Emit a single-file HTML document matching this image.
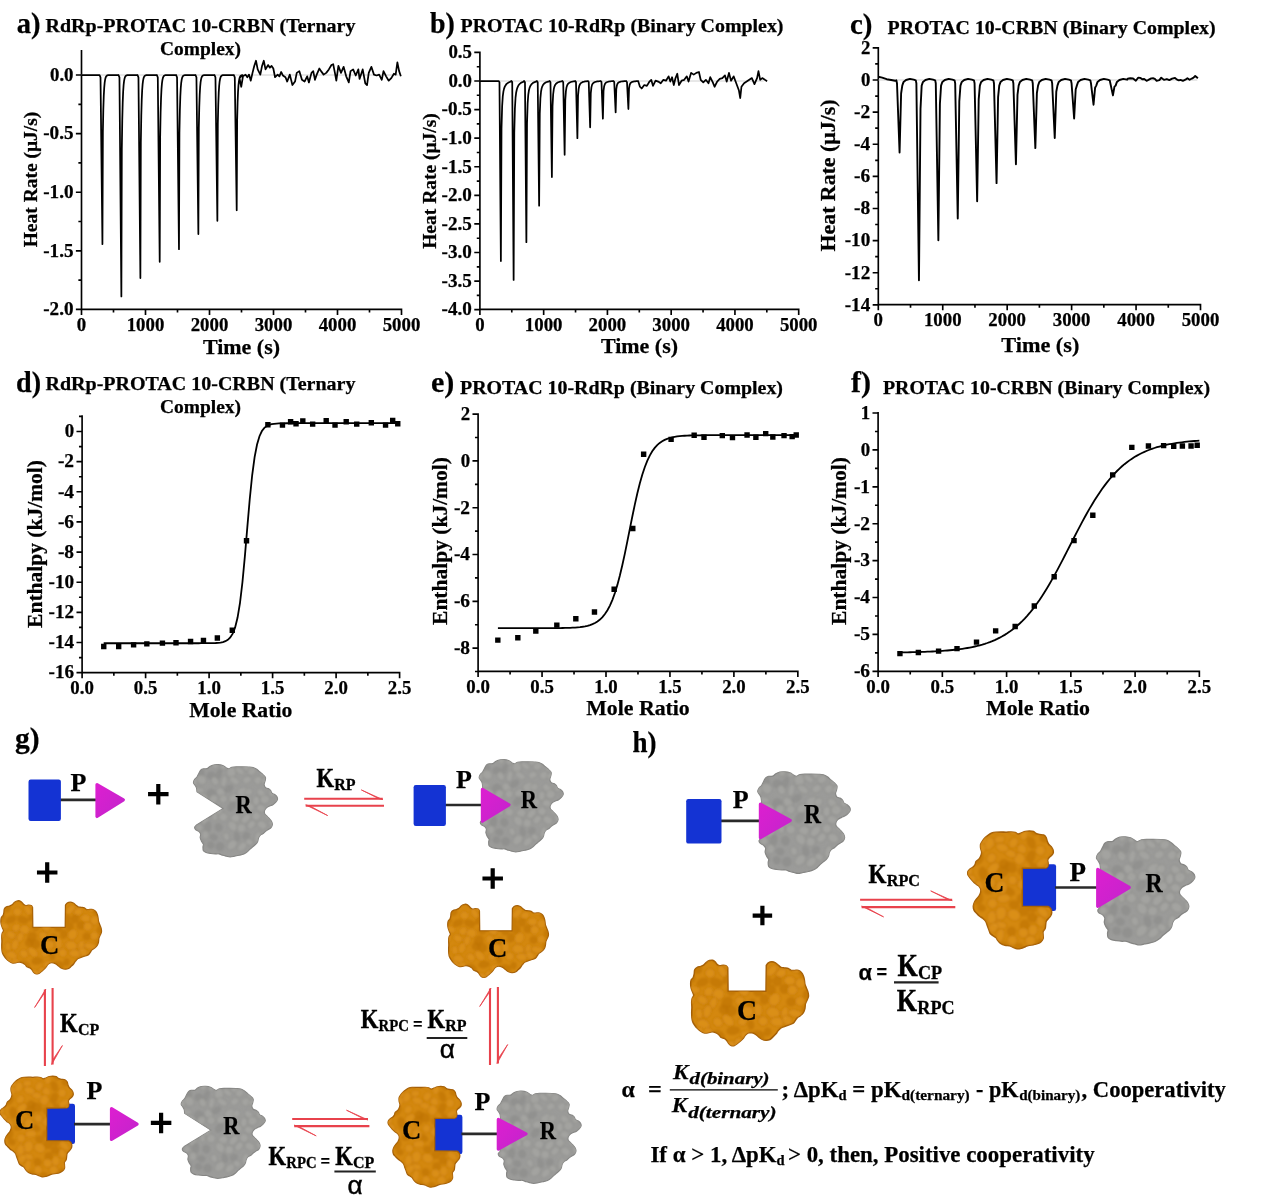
<!DOCTYPE html>
<html lang="en"><head><meta charset="utf-8"><title>ITC cooperativity figure</title>
<style>html,body{margin:0;padding:0;background:#fff}svg{display:block;filter:blur(0.5px)}text{font-family:"Liberation Serif","Times New Roman",serif;font-weight:bold;fill:#000;stroke:#000;stroke-width:0.25px}.s{font-family:"Liberation Sans",Arial,sans-serif}.n{font-weight:normal}.i{font-style:italic}.m{text-anchor:middle}.e{text-anchor:end}.k{stroke:#000;stroke-width:0.45px}.k2{stroke:#000;stroke-width:0.3px}</style>
</head><body>
<svg width="1268" height="1196" viewBox="0 0 1268 1196">
<rect width="1268" height="1196" fill="#fff"/>
<defs>
<path id="gp" d="M3.46 27.7C3.38 27.09 3.31 25.09 3 24.02C2.69 22.95 2.13 22.18 1.62 21.26C1.11 20.34 0.04 19.5 -0.04 18.5C-0.11 17.5 0.58 16.2 1.16 15.28C1.74 14.36 2.77 13.98 3.46 12.98C4.15 11.98 4.69 10.45 5.3 9.3C5.91 8.15 6.37 6.85 7.14 6.08C7.91 5.31 8.83 4.96 9.9 4.7C10.97 4.44 12.51 4.9 13.58 4.52C14.65 4.13 15.27 3.01 16.34 2.4C17.41 1.79 18.64 1.14 20.02 0.84C21.4 0.53 23.09 0.45 24.62 0.56C26.15 0.67 27.84 0.94 29.22 1.48C30.6 2.02 31.9 3.24 32.9 3.78C33.89 4.32 34.28 4.81 35.2 4.7C36.12 4.59 37.11 3.47 38.42 3.14C39.72 2.8 41.33 2.75 43.02 2.68C44.7 2.6 46.54 2.64 48.54 2.68C50.53 2.71 53.14 2.75 54.98 2.86C56.82 2.97 58.2 2.94 59.58 3.32C60.96 3.7 62.11 4.39 63.26 5.16C64.41 5.93 65.4 7 66.48 7.92C67.55 8.84 68.78 9.76 69.7 10.68C70.62 11.6 71.69 12.37 72 13.44C72.3 14.51 71.77 15.97 71.54 17.12C71.31 18.27 70.54 19.27 70.62 20.34C70.69 21.41 71.31 22.87 72 23.56C72.69 24.25 73.91 24.02 74.76 24.48C75.6 24.94 76.44 25.55 77.06 26.32C77.67 27.09 77.75 28.39 78.44 29.08C79.13 29.77 80.35 29.85 81.2 30.46C82.04 31.07 83.04 31.92 83.5 32.76C83.96 33.6 84.19 34.6 83.96 35.52C83.73 36.44 82.88 37.43 82.12 38.28C81.35 39.12 80.35 39.96 79.36 40.58C78.36 41.19 77.21 41.42 76.14 41.96C75.06 42.49 73.76 43.03 72.92 43.8C72.07 44.56 71.38 45.64 71.08 46.56C70.77 47.48 70.77 48.47 71.08 49.32C71.38 50.16 72.15 50.77 72.92 51.62C73.68 52.46 74.83 53.46 75.68 54.38C76.52 55.3 77.44 56.14 77.98 57.14C78.51 58.13 78.97 59.28 78.9 60.36C78.82 61.43 78.21 62.73 77.52 63.58C76.83 64.42 75.68 64.8 74.76 65.42C73.84 66.03 72.84 66.57 72 67.26C71.15 67.95 70.54 68.94 69.7 69.56C68.85 70.17 67.7 70.25 66.94 70.94C66.17 71.63 65.56 72.62 65.1 73.7C64.64 74.77 64.64 76.3 64.18 77.38C63.72 78.45 63.1 79.29 62.34 80.14C61.57 80.98 60.5 81.67 59.58 82.44C58.66 83.2 57.74 83.89 56.82 84.74C55.9 85.58 55.13 86.65 54.06 87.5C52.98 88.34 51.76 89.18 50.38 89.8C49 90.41 47.31 90.79 45.78 91.18C44.24 91.56 42.71 91.82 41.18 92.1C39.64 92.37 37.96 92.83 36.58 92.83C35.2 92.83 34.12 92.37 32.9 92.1C31.67 91.82 30.45 91.56 29.22 91.18C27.99 90.79 26.77 90.03 25.54 89.8C24.31 89.57 23.24 89.87 21.86 89.8C20.48 89.72 18.79 89.57 17.26 89.34C15.73 89.11 13.89 88.88 12.66 88.42C11.43 87.96 10.44 87.5 9.9 86.58C9.36 85.66 9.44 83.97 9.44 82.9C9.44 81.82 10.13 81.06 9.9 80.14C9.67 79.22 8.6 78.45 8.06 77.38C7.52 76.3 6.83 74.92 6.68 73.7C6.53 72.47 7.37 71.09 7.14 70.02C6.91 68.94 6.14 68.02 5.3 67.26C4.46 66.49 2.77 66.11 2.08 65.42C1.39 64.73 1.01 63.88 1.16 63.12C1.31 62.35 2.69 61.2 3 60.82L29.68 44.44Z"/>
<path id="gq" d="M3.46 27.7C3.38 27.09 3.31 25.09 3 24.02C2.69 22.95 2.13 22.18 1.62 21.26C1.11 20.34 0.04 19.5 -0.04 18.5C-0.11 17.5 0.58 16.2 1.16 15.28C1.74 14.36 2.77 13.98 3.46 12.98C4.15 11.98 4.69 10.45 5.3 9.3C5.91 8.15 6.37 6.85 7.14 6.08C7.91 5.31 8.83 4.96 9.9 4.7C10.97 4.44 12.51 4.9 13.58 4.52C14.65 4.13 15.27 3.01 16.34 2.4C17.41 1.79 18.64 1.14 20.02 0.84C21.4 0.53 23.09 0.45 24.62 0.56C26.15 0.67 27.84 0.94 29.22 1.48C30.6 2.02 31.9 3.24 32.9 3.78C33.89 4.32 34.28 4.81 35.2 4.7C36.12 4.59 37.11 3.47 38.42 3.14C39.72 2.8 41.33 2.75 43.02 2.68C44.7 2.6 46.54 2.64 48.54 2.68C50.53 2.71 53.14 2.75 54.98 2.86C56.82 2.97 58.2 2.94 59.58 3.32C60.96 3.7 62.11 4.39 63.26 5.16C64.41 5.93 65.4 7 66.48 7.92C67.55 8.84 68.78 9.76 69.7 10.68C70.62 11.6 71.69 12.37 72 13.44C72.3 14.51 71.77 15.97 71.54 17.12C71.31 18.27 70.54 19.27 70.62 20.34C70.69 21.41 71.31 22.87 72 23.56C72.69 24.25 73.91 24.02 74.76 24.48C75.6 24.94 76.44 25.55 77.06 26.32C77.67 27.09 77.75 28.39 78.44 29.08C79.13 29.77 80.35 29.85 81.2 30.46C82.04 31.07 83.04 31.92 83.5 32.76C83.96 33.6 84.19 34.6 83.96 35.52C83.73 36.44 82.88 37.43 82.12 38.28C81.35 39.12 80.35 39.96 79.36 40.58C78.36 41.19 77.21 41.42 76.14 41.96C75.06 42.49 73.76 43.03 72.92 43.8C72.07 44.56 71.38 45.64 71.08 46.56C70.77 47.48 70.77 48.47 71.08 49.32C71.38 50.16 72.15 50.77 72.92 51.62C73.68 52.46 74.83 53.46 75.68 54.38C76.52 55.3 77.44 56.14 77.98 57.14C78.51 58.13 78.97 59.28 78.9 60.36C78.82 61.43 78.21 62.73 77.52 63.58C76.83 64.42 75.68 64.8 74.76 65.42C73.84 66.03 72.84 66.57 72 67.26C71.15 67.95 70.54 68.94 69.7 69.56C68.85 70.17 67.7 70.25 66.94 70.94C66.17 71.63 65.56 72.62 65.1 73.7C64.64 74.77 64.64 76.3 64.18 77.38C63.72 78.45 63.1 79.29 62.34 80.14C61.57 80.98 60.5 81.67 59.58 82.44C58.66 83.2 57.74 83.89 56.82 84.74C55.9 85.58 55.13 86.65 54.06 87.5C52.98 88.34 51.76 89.18 50.38 89.8C49 90.41 47.31 90.79 45.78 91.18C44.24 91.56 42.71 91.82 41.18 92.1C39.64 92.37 37.96 92.83 36.58 92.83C35.2 92.83 34.12 92.37 32.9 92.1C31.67 91.82 30.45 91.56 29.22 91.18C27.99 90.79 26.77 90.03 25.54 89.8C24.31 89.57 23.24 89.87 21.86 89.8C20.48 89.72 18.79 89.57 17.26 89.34C15.73 89.11 13.89 88.88 12.66 88.42C11.43 87.96 10.44 87.5 9.9 86.58C9.36 85.66 9.44 83.97 9.44 82.9C9.44 81.82 10.13 81.06 9.9 80.14C9.67 79.22 8.6 78.45 8.06 77.38C7.52 76.3 6.83 74.92 6.68 73.7C6.53 72.47 7.37 71.09 7.14 70.02C6.91 68.94 6.14 68.02 5.3 67.26C4.46 66.49 2.77 66.11 2.08 65.42C1.39 64.73 1.01 63.88 1.16 63.12C1.31 62.35 2.69 61.2 3 60.82Z"/>
<path id="op" d="M64.8 4.48C65.09 4.12 65.74 2.82 66.53 2.31C67.33 1.81 68.56 1.45 69.57 1.45C70.58 1.45 71.67 1.81 72.61 2.31C73.55 2.82 74.41 3.83 75.21 4.48C76 5.13 76.51 5.86 77.38 6.22C78.25 6.58 79.4 6.51 80.41 6.65C81.43 6.8 82.51 6.72 83.45 7.08C84.39 7.45 85.11 8.53 86.05 8.82C86.99 9.11 88.08 8.82 89.09 8.82C90.1 8.82 91.19 8.53 92.13 8.82C93.07 9.11 94.01 9.76 94.73 10.55C95.45 11.35 96.03 12.51 96.46 13.59C96.9 14.68 97.11 15.9 97.33 17.06C97.55 18.22 97.48 19.37 97.76 20.53C98.05 21.69 98.63 22.84 99.07 24C99.5 25.16 100.08 26.31 100.37 27.47C100.66 28.63 100.95 29.78 100.8 30.94C100.66 32.1 99.93 33.33 99.5 34.41C99.07 35.5 98.49 36.29 98.2 37.45C97.91 38.6 98.05 40.12 97.76 41.35C97.48 42.58 97.11 43.81 96.46 44.82C95.81 45.83 94.73 46.7 93.86 47.42C92.99 48.15 91.98 48.44 91.26 49.16C90.54 49.88 90.1 50.97 89.52 51.76C88.94 52.56 88.66 53.35 87.79 53.93C86.92 54.51 85.47 54.8 84.32 55.23C83.16 55.67 82 56.1 80.85 56.53C79.69 56.97 78.39 57.18 77.38 57.83C76.37 58.49 75.5 59.57 74.77 60.44C74.05 61.3 73.76 62.17 73.04 63.04C72.32 63.91 71.3 64.85 70.44 65.64C69.57 66.44 68.85 67.35 67.83 67.81C66.82 68.27 65.52 68.49 64.36 68.42C63.21 68.35 61.91 67.84 60.89 67.38C59.88 66.91 59.16 66.29 58.29 65.64C57.42 64.99 56.63 64.05 55.69 63.47C54.75 62.9 53.67 62.39 52.65 62.17C51.64 61.96 50.56 61.88 49.62 62.17C48.68 62.46 47.74 63.18 47.01 63.91C46.29 64.63 46 65.64 45.28 66.51C44.56 67.38 43.54 68.32 42.68 69.11C41.81 69.91 40.94 70.63 40.07 71.28C39.21 71.93 38.34 72.73 37.47 73.02C36.6 73.31 35.66 73.31 34.87 73.02C34.07 72.73 33.35 72 32.7 71.28C32.05 70.56 31.62 69.4 30.96 68.68C30.31 67.96 29.59 67.38 28.8 66.94C28 66.51 26.92 66.58 26.19 66.08C25.47 65.57 25.18 64.56 24.46 63.91C23.74 63.26 22.87 62.61 21.86 62.17C20.84 61.74 19.54 61.3 18.39 61.3C17.23 61.3 16.07 62.03 14.92 62.17C13.76 62.32 12.53 62.46 11.45 62.17C10.36 61.88 9.35 61.09 8.41 60.44C7.47 59.79 6.6 59.06 5.81 58.27C5.01 57.47 4.29 56.61 3.64 55.67C2.99 54.73 2.31 53.71 1.9 52.63C1.5 51.55 1.35 50.46 1.21 49.16C1.06 47.86 1.04 46.27 1.04 44.82C1.04 43.38 1.21 41.93 1.21 40.48C1.21 39.04 0.99 37.45 1.04 36.15C1.08 34.85 1.18 33.69 1.47 32.68C1.76 31.66 2.7 30.94 2.77 30.07C2.84 29.21 2.26 28.48 1.9 27.47C1.54 26.46 0.89 25.16 0.6 24C0.31 22.84 0.17 21.69 0.17 20.53C0.17 19.37 0.24 18 0.6 17.06C0.96 16.12 1.9 15.76 2.34 14.89C2.77 14.02 2.99 12.94 3.2 11.86C3.42 10.77 3.2 9.33 3.64 8.39C4.07 7.45 4.94 6.72 5.81 6.22C6.67 5.71 7.9 5.71 8.84 5.35C9.78 4.99 10.65 4.63 11.45 4.05C12.24 3.47 12.82 2.49 13.61 1.88C14.41 1.27 15.35 0.69 16.22 0.4C17.08 0.12 18.02 -0.03 18.82 0.14C19.61 0.32 20.34 0.87 20.99 1.45C21.64 2.02 22.07 3.04 22.72 3.61C23.37 4.19 24.02 4.77 24.89 4.92C25.76 5.06 26.99 4.48 27.93 4.48C28.87 4.48 29.88 4.55 30.53 4.92C31.18 5.28 31.62 6.36 31.83 6.65L32.09 26.6L64.54 26.6Z"/>
<clipPath id="gc"><use href="#gq"/></clipPath>
<clipPath id="oc"><use href="#op"/></clipPath>
<filter id="bl" x="-10%" y="-10%" width="120%" height="120%"><feGaussianBlur stdDeviation="0.9"/></filter>
<g id="GT" clip-path="url(#gc)"><g filter="url(#bl)"><ellipse cx="-1.31" cy="0.22" rx="4.69" ry="4.09" fill="#8b8b89" fill-opacity="0.6" transform="rotate(112.63 -1.31 0.22)"/><ellipse cx="8.07" cy="1.69" rx="4.42" ry="3.42" fill="#a5a5a2" fill-opacity="0.75" stroke="#8b8b89" stroke-opacity="0.55" stroke-width="1.1" transform="rotate(179.22 8.07 1.69)"/><ellipse cx="22.68" cy="-0.12" rx="5.33" ry="3.27" fill="#a5a5a2" fill-opacity="0.75" stroke="#8b8b89" stroke-opacity="0.55" stroke-width="1.1" transform="rotate(114.27 22.68 -0.12)"/><ellipse cx="31.62" cy="1.21" rx="5.41" ry="3.12" fill="#a5a5a2" fill-opacity="0.75" stroke="#8b8b89" stroke-opacity="0.55" stroke-width="1.1" transform="rotate(136.48 31.62 1.21)"/><ellipse cx="41.01" cy="-2.34" rx="5.88" ry="3.85" fill="#a5a5a2" fill-opacity="0.75" stroke="#8b8b89" stroke-opacity="0.55" stroke-width="1.1" transform="rotate(129.39 41.01 -2.34)"/><ellipse cx="53.57" cy="2.11" rx="4.75" ry="4.44" fill="#a5a5a2" fill-opacity="0.75" stroke="#8b8b89" stroke-opacity="0.55" stroke-width="1.1" transform="rotate(80.03 53.57 2.11)"/><ellipse cx="64.89" cy="-2.01" rx="4.13" ry="3.39" fill="#a5a5a2" fill-opacity="0.75" stroke="#8b8b89" stroke-opacity="0.55" stroke-width="1.1" transform="rotate(173.79 64.89 -2.01)"/><ellipse cx="74.13" cy="-0.99" rx="5.02" ry="3.69" fill="#a5a5a2" fill-opacity="0.75" stroke="#8b8b89" stroke-opacity="0.55" stroke-width="1.1" transform="rotate(63.16 74.13 -0.99)"/><ellipse cx="84.42" cy="2.02" rx="5.44" ry="4.67" fill="#a5a5a2" fill-opacity="0.75" stroke="#8b8b89" stroke-opacity="0.55" stroke-width="1.1" transform="rotate(154.15 84.42 2.02)"/><ellipse cx="95.36" cy="-1.68" rx="5.87" ry="4.74" fill="#a5a5a2" fill-opacity="0.75" stroke="#8b8b89" stroke-opacity="0.55" stroke-width="1.1" transform="rotate(162.85 95.36 -1.68)"/><ellipse cx="6.32" cy="7.48" rx="5.8" ry="4.03" fill="#8b8b89" fill-opacity="0.6" transform="rotate(51.29 6.32 7.48)"/><ellipse cx="17.52" cy="11.37" rx="4.01" ry="4.44" fill="#8b8b89" fill-opacity="0.6" transform="rotate(73.88 17.52 11.37)"/><ellipse cx="25.22" cy="10.27" rx="5.89" ry="3.08" fill="#8b8b89" fill-opacity="0.6" transform="rotate(110.62 25.22 10.27)"/><ellipse cx="37.84" cy="8.08" rx="5.91" ry="4.77" fill="#a5a5a2" fill-opacity="0.75" stroke="#8b8b89" stroke-opacity="0.55" stroke-width="1.1" transform="rotate(90.98 37.84 8.08)"/><ellipse cx="46.3" cy="6.81" rx="5.24" ry="3.06" fill="#a5a5a2" fill-opacity="0.75" stroke="#8b8b89" stroke-opacity="0.55" stroke-width="1.1" transform="rotate(35.53 46.3 6.81)"/><ellipse cx="58.3" cy="7.21" rx="3.9" ry="4.56" fill="#a5a5a2" fill-opacity="0.75" stroke="#8b8b89" stroke-opacity="0.55" stroke-width="1.1" transform="rotate(56.49 58.3 7.21)"/><ellipse cx="70.23" cy="8.31" rx="4.9" ry="3.94" fill="#a5a5a2" fill-opacity="0.75" stroke="#8b8b89" stroke-opacity="0.55" stroke-width="1.1" transform="rotate(115.9 70.23 8.31)"/><ellipse cx="79.05" cy="9.53" rx="6.06" ry="3.91" fill="#a5a5a2" fill-opacity="0.75" stroke="#8b8b89" stroke-opacity="0.55" stroke-width="1.1" transform="rotate(77.61 79.05 9.53)"/><ellipse cx="87.94" cy="7.93" rx="6.15" ry="3.94" fill="#8b8b89" fill-opacity="0.6" transform="rotate(98.72 87.94 7.93)"/><ellipse cx="99.33" cy="9.32" rx="3.85" ry="4.11" fill="#8b8b89" fill-opacity="0.6" transform="rotate(113.79 99.33 9.32)"/><ellipse cx="0.64" cy="17.68" rx="5.43" ry="3.63" fill="#a5a5a2" fill-opacity="0.75" stroke="#8b8b89" stroke-opacity="0.55" stroke-width="1.1" transform="rotate(127.25 0.64 17.68)"/><ellipse cx="8.11" cy="15.65" rx="5.42" ry="4.73" fill="#a5a5a2" fill-opacity="0.75" stroke="#8b8b89" stroke-opacity="0.55" stroke-width="1.1" transform="rotate(45.2 8.11 15.65)"/><ellipse cx="21.46" cy="16.95" rx="4.67" ry="3.56" fill="#a5a5a2" fill-opacity="0.75" stroke="#8b8b89" stroke-opacity="0.55" stroke-width="1.1" transform="rotate(66.45 21.46 16.95)"/><ellipse cx="30.5" cy="17.24" rx="5.65" ry="3.05" fill="#a5a5a2" fill-opacity="0.75" stroke="#8b8b89" stroke-opacity="0.55" stroke-width="1.1" transform="rotate(102.47 30.5 17.24)"/><ellipse cx="41.05" cy="16.46" rx="5.73" ry="3.43" fill="#a5a5a2" fill-opacity="0.75" stroke="#8b8b89" stroke-opacity="0.55" stroke-width="1.1" transform="rotate(33.73 41.05 16.46)"/><ellipse cx="53.49" cy="15.86" rx="4.57" ry="3.6" fill="#a5a5a2" fill-opacity="0.75" stroke="#8b8b89" stroke-opacity="0.55" stroke-width="1.1" transform="rotate(150.04 53.49 15.86)"/><ellipse cx="64.78" cy="16.2" rx="4.61" ry="4.17" fill="#a5a5a2" fill-opacity="0.75" stroke="#8b8b89" stroke-opacity="0.55" stroke-width="1.1" transform="rotate(159.28 64.78 16.2)"/><ellipse cx="72.13" cy="15.95" rx="5.07" ry="3.34" fill="#a5a5a2" fill-opacity="0.75" stroke="#8b8b89" stroke-opacity="0.55" stroke-width="1.1" transform="rotate(145.22 72.13 15.95)"/><ellipse cx="82.42" cy="16.74" rx="5.74" ry="4.16" fill="#a5a5a2" fill-opacity="0.75" stroke="#8b8b89" stroke-opacity="0.55" stroke-width="1.1" transform="rotate(145.13 82.42 16.74)"/><ellipse cx="92.65" cy="16.81" rx="5.71" ry="3.49" fill="#a5a5a2" fill-opacity="0.75" stroke="#8b8b89" stroke-opacity="0.55" stroke-width="1.1" transform="rotate(62.34 92.65 16.81)"/><ellipse cx="4.85" cy="26.32" rx="6.01" ry="3.28" fill="#a5a5a2" fill-opacity="0.75" stroke="#8b8b89" stroke-opacity="0.55" stroke-width="1.1" transform="rotate(0.84 4.85 26.32)"/><ellipse cx="17.65" cy="29.21" rx="4.84" ry="4.71" fill="#8b8b89" fill-opacity="0.6" transform="rotate(166.93 17.65 29.21)"/><ellipse cx="27.48" cy="28.46" rx="5.39" ry="3.93" fill="#a5a5a2" fill-opacity="0.75" stroke="#8b8b89" stroke-opacity="0.55" stroke-width="1.1" transform="rotate(52.03 27.48 28.46)"/><ellipse cx="35.39" cy="24.62" rx="5.21" ry="3.52" fill="#8b8b89" fill-opacity="0.6" transform="rotate(145.83 35.39 24.62)"/><ellipse cx="49.27" cy="27.74" rx="6.02" ry="4.61" fill="#a5a5a2" fill-opacity="0.75" stroke="#8b8b89" stroke-opacity="0.55" stroke-width="1.1" transform="rotate(161.94 49.27 27.74)"/><ellipse cx="55.32" cy="28" rx="4.21" ry="3.54" fill="#a5a5a2" fill-opacity="0.75" stroke="#8b8b89" stroke-opacity="0.55" stroke-width="1.1" transform="rotate(119.32 55.32 28)"/><ellipse cx="67.82" cy="28.97" rx="5.27" ry="3.61" fill="#a5a5a2" fill-opacity="0.75" stroke="#8b8b89" stroke-opacity="0.55" stroke-width="1.1" transform="rotate(45.45 67.82 28.97)"/><ellipse cx="78.64" cy="28.19" rx="4.64" ry="3.36" fill="#a5a5a2" fill-opacity="0.75" stroke="#8b8b89" stroke-opacity="0.55" stroke-width="1.1" transform="rotate(96.23 78.64 28.19)"/><ellipse cx="87.61" cy="28.23" rx="6.01" ry="4.45" fill="#8b8b89" fill-opacity="0.6" transform="rotate(148.23 87.61 28.23)"/><ellipse cx="100.39" cy="28.59" rx="3.92" ry="3.49" fill="#a5a5a2" fill-opacity="0.75" stroke="#8b8b89" stroke-opacity="0.55" stroke-width="1.1" transform="rotate(48.35 100.39 28.59)"/><ellipse cx="-0.39" cy="35.56" rx="5.66" ry="3" fill="#8b8b89" fill-opacity="0.6" transform="rotate(9.87 -0.39 35.56)"/><ellipse cx="8.62" cy="33.54" rx="6.14" ry="4.54" fill="#a5a5a2" fill-opacity="0.75" stroke="#8b8b89" stroke-opacity="0.55" stroke-width="1.1" transform="rotate(15.5 8.62 33.54)"/><ellipse cx="20.08" cy="34.77" rx="4.64" ry="4.16" fill="#a5a5a2" fill-opacity="0.75" stroke="#8b8b89" stroke-opacity="0.55" stroke-width="1.1" transform="rotate(105.59 20.08 34.77)"/><ellipse cx="29.96" cy="34.84" rx="4.1" ry="4" fill="#a5a5a2" fill-opacity="0.75" stroke="#8b8b89" stroke-opacity="0.55" stroke-width="1.1" transform="rotate(128.89 29.96 34.84)"/><ellipse cx="39.9" cy="34.09" rx="4.7" ry="4.09" fill="#a5a5a2" fill-opacity="0.75" stroke="#8b8b89" stroke-opacity="0.55" stroke-width="1.1" transform="rotate(140.87 39.9 34.09)"/><ellipse cx="54.01" cy="36.31" rx="4.84" ry="3.67" fill="#a5a5a2" fill-opacity="0.75" stroke="#8b8b89" stroke-opacity="0.55" stroke-width="1.1" transform="rotate(89.31 54.01 36.31)"/><ellipse cx="62.6" cy="36.67" rx="4.91" ry="3.44" fill="#a5a5a2" fill-opacity="0.75" stroke="#8b8b89" stroke-opacity="0.55" stroke-width="1.1" transform="rotate(96.45 62.6 36.67)"/><ellipse cx="71.36" cy="35.32" rx="4.82" ry="4.58" fill="#a5a5a2" fill-opacity="0.75" stroke="#8b8b89" stroke-opacity="0.55" stroke-width="1.1" transform="rotate(168.57 71.36 35.32)"/><ellipse cx="85.99" cy="37.15" rx="4.43" ry="3.84" fill="#a5a5a2" fill-opacity="0.75" stroke="#8b8b89" stroke-opacity="0.55" stroke-width="1.1" transform="rotate(22.17 85.99 37.15)"/><ellipse cx="95.31" cy="37.64" rx="5.7" ry="4.2" fill="#a5a5a2" fill-opacity="0.75" stroke="#8b8b89" stroke-opacity="0.55" stroke-width="1.1" transform="rotate(132.07 95.31 37.64)"/><ellipse cx="3.27" cy="45.06" rx="3.81" ry="3.26" fill="#8b8b89" fill-opacity="0.6" transform="rotate(139.37 3.27 45.06)"/><ellipse cx="13.71" cy="42.62" rx="5.91" ry="3.32" fill="#a5a5a2" fill-opacity="0.75" stroke="#8b8b89" stroke-opacity="0.55" stroke-width="1.1" transform="rotate(4.23 13.71 42.62)"/><ellipse cx="24.36" cy="46.34" rx="5.42" ry="4.51" fill="#a5a5a2" fill-opacity="0.75" stroke="#8b8b89" stroke-opacity="0.55" stroke-width="1.1" transform="rotate(171.43 24.36 46.34)"/><ellipse cx="38.24" cy="42.31" rx="5.64" ry="3.92" fill="#8b8b89" fill-opacity="0.6" transform="rotate(128.73 38.24 42.31)"/><ellipse cx="48.49" cy="46.8" rx="3.95" ry="3.58" fill="#a5a5a2" fill-opacity="0.75" stroke="#8b8b89" stroke-opacity="0.55" stroke-width="1.1" transform="rotate(101.52 48.49 46.8)"/><ellipse cx="56.46" cy="43.02" rx="4.4" ry="4.11" fill="#a5a5a2" fill-opacity="0.75" stroke="#8b8b89" stroke-opacity="0.55" stroke-width="1.1" transform="rotate(135.64 56.46 43.02)"/><ellipse cx="67.59" cy="44.11" rx="4.64" ry="3.75" fill="#a5a5a2" fill-opacity="0.75" stroke="#8b8b89" stroke-opacity="0.55" stroke-width="1.1" transform="rotate(14.99 67.59 44.11)"/><ellipse cx="81.12" cy="44.19" rx="5.59" ry="3.29" fill="#a5a5a2" fill-opacity="0.75" stroke="#8b8b89" stroke-opacity="0.55" stroke-width="1.1" transform="rotate(124.35 81.12 44.19)"/><ellipse cx="90.12" cy="44.71" rx="4.96" ry="4.16" fill="#8b8b89" fill-opacity="0.6" transform="rotate(161.53 90.12 44.71)"/><ellipse cx="97.73" cy="45.87" rx="6" ry="3.93" fill="#a5a5a2" fill-opacity="0.75" stroke="#8b8b89" stroke-opacity="0.55" stroke-width="1.1" transform="rotate(79.75 97.73 45.87)"/><ellipse cx="-1.57" cy="52.39" rx="4.28" ry="4.05" fill="#8b8b89" fill-opacity="0.6" transform="rotate(56.67 -1.57 52.39)"/><ellipse cx="11.46" cy="55.82" rx="4.51" ry="4.27" fill="#a5a5a2" fill-opacity="0.75" stroke="#8b8b89" stroke-opacity="0.55" stroke-width="1.1" transform="rotate(74.38 11.46 55.82)"/><ellipse cx="21.42" cy="52.39" rx="4.32" ry="3.04" fill="#a5a5a2" fill-opacity="0.75" stroke="#8b8b89" stroke-opacity="0.55" stroke-width="1.1" transform="rotate(86.31 21.42 52.39)"/><ellipse cx="29.86" cy="52.85" rx="4.57" ry="4.39" fill="#a5a5a2" fill-opacity="0.75" stroke="#8b8b89" stroke-opacity="0.55" stroke-width="1.1" transform="rotate(25.85 29.86 52.85)"/><ellipse cx="41.9" cy="54.05" rx="4.92" ry="4.5" fill="#a5a5a2" fill-opacity="0.75" stroke="#8b8b89" stroke-opacity="0.55" stroke-width="1.1" transform="rotate(147.89 41.9 54.05)"/><ellipse cx="52.41" cy="54.65" rx="5.86" ry="3.72" fill="#a5a5a2" fill-opacity="0.75" stroke="#8b8b89" stroke-opacity="0.55" stroke-width="1.1" transform="rotate(132.05 52.41 54.65)"/><ellipse cx="62.84" cy="52.2" rx="4.36" ry="4.29" fill="#a5a5a2" fill-opacity="0.75" stroke="#8b8b89" stroke-opacity="0.55" stroke-width="1.1" transform="rotate(121.56 62.84 52.2)"/><ellipse cx="75.27" cy="52.26" rx="4.26" ry="3.47" fill="#a5a5a2" fill-opacity="0.75" stroke="#8b8b89" stroke-opacity="0.55" stroke-width="1.1" transform="rotate(33.69 75.27 52.26)"/><ellipse cx="85.79" cy="55.55" rx="4.41" ry="4.56" fill="#a5a5a2" fill-opacity="0.75" stroke="#8b8b89" stroke-opacity="0.55" stroke-width="1.1" transform="rotate(56.42 85.79 55.55)"/><ellipse cx="95.64" cy="51.48" rx="4.02" ry="4.5" fill="#a5a5a2" fill-opacity="0.75" stroke="#8b8b89" stroke-opacity="0.55" stroke-width="1.1" transform="rotate(52.52 95.64 51.48)"/><ellipse cx="5.65" cy="63.35" rx="3.82" ry="3.6" fill="#a5a5a2" fill-opacity="0.75" stroke="#8b8b89" stroke-opacity="0.55" stroke-width="1.1" transform="rotate(78.52 5.65 63.35)"/><ellipse cx="14.3" cy="62.9" rx="6.09" ry="3.7" fill="#8b8b89" fill-opacity="0.6" transform="rotate(97.98 14.3 62.9)"/><ellipse cx="25.12" cy="63.3" rx="4.07" ry="4.6" fill="#8b8b89" fill-opacity="0.6" transform="rotate(163.58 25.12 63.3)"/><ellipse cx="38.96" cy="61.85" rx="5.65" ry="4.36" fill="#a5a5a2" fill-opacity="0.75" stroke="#8b8b89" stroke-opacity="0.55" stroke-width="1.1" transform="rotate(53.2 38.96 61.85)"/><ellipse cx="48.02" cy="64.01" rx="4.44" ry="4.36" fill="#a5a5a2" fill-opacity="0.75" stroke="#8b8b89" stroke-opacity="0.55" stroke-width="1.1" transform="rotate(173.04 48.02 64.01)"/><ellipse cx="57.93" cy="60.54" rx="4.99" ry="3.63" fill="#a5a5a2" fill-opacity="0.75" stroke="#8b8b89" stroke-opacity="0.55" stroke-width="1.1" transform="rotate(129.26 57.93 60.54)"/><ellipse cx="68.58" cy="60.88" rx="5.35" ry="4.14" fill="#a5a5a2" fill-opacity="0.75" stroke="#8b8b89" stroke-opacity="0.55" stroke-width="1.1" transform="rotate(32.24 68.58 60.88)"/><ellipse cx="79.53" cy="60.59" rx="6.04" ry="3.25" fill="#a5a5a2" fill-opacity="0.75" stroke="#8b8b89" stroke-opacity="0.55" stroke-width="1.1" transform="rotate(59.68 79.53 60.59)"/><ellipse cx="89.74" cy="62.75" rx="5.35" ry="3.82" fill="#8b8b89" fill-opacity="0.6" transform="rotate(56.24 89.74 62.75)"/><ellipse cx="97.59" cy="63.55" rx="5.61" ry="3.98" fill="#a5a5a2" fill-opacity="0.75" stroke="#8b8b89" stroke-opacity="0.55" stroke-width="1.1" transform="rotate(133.13 97.59 63.55)"/><ellipse cx="-1.17" cy="70.82" rx="5.89" ry="3.08" fill="#8b8b89" fill-opacity="0.6" transform="rotate(90.85 -1.17 70.82)"/><ellipse cx="11.84" cy="70.67" rx="4.6" ry="3.73" fill="#a5a5a2" fill-opacity="0.75" stroke="#8b8b89" stroke-opacity="0.55" stroke-width="1.1" transform="rotate(97.47 11.84 70.67)"/><ellipse cx="20.26" cy="73.13" rx="4.07" ry="3.49" fill="#8b8b89" fill-opacity="0.6" transform="rotate(17.94 20.26 73.13)"/><ellipse cx="32.89" cy="72.54" rx="4.24" ry="3.34" fill="#a5a5a2" fill-opacity="0.75" stroke="#8b8b89" stroke-opacity="0.55" stroke-width="1.1" transform="rotate(75 32.89 72.54)"/><ellipse cx="43.58" cy="72.64" rx="5.22" ry="3.26" fill="#8b8b89" fill-opacity="0.6" transform="rotate(71.72 43.58 72.64)"/><ellipse cx="52.64" cy="71.74" rx="4.28" ry="3.45" fill="#8b8b89" fill-opacity="0.6" transform="rotate(140.7 52.64 71.74)"/><ellipse cx="64.52" cy="73.36" rx="6.08" ry="3.69" fill="#a5a5a2" fill-opacity="0.75" stroke="#8b8b89" stroke-opacity="0.55" stroke-width="1.1" transform="rotate(99.47 64.52 73.36)"/><ellipse cx="74.17" cy="73.78" rx="5.45" ry="3.54" fill="#a5a5a2" fill-opacity="0.75" stroke="#8b8b89" stroke-opacity="0.55" stroke-width="1.1" transform="rotate(154.8 74.17 73.78)"/><ellipse cx="84.51" cy="72.53" rx="3.81" ry="4.39" fill="#a5a5a2" fill-opacity="0.75" stroke="#8b8b89" stroke-opacity="0.55" stroke-width="1.1" transform="rotate(119.15 84.51 72.53)"/><ellipse cx="94.62" cy="71.2" rx="4.26" ry="3.95" fill="#a5a5a2" fill-opacity="0.75" stroke="#8b8b89" stroke-opacity="0.55" stroke-width="1.1" transform="rotate(6.67 94.62 71.2)"/><ellipse cx="5.98" cy="80.05" rx="5.16" ry="4.73" fill="#8b8b89" fill-opacity="0.6" transform="rotate(160.57 5.98 80.05)"/><ellipse cx="17.21" cy="80.94" rx="3.92" ry="3.65" fill="#8b8b89" fill-opacity="0.6" transform="rotate(42.01 17.21 80.94)"/><ellipse cx="26.44" cy="82.47" rx="4.58" ry="4.57" fill="#8b8b89" fill-opacity="0.6" transform="rotate(125.04 26.44 82.47)"/><ellipse cx="38.54" cy="80.83" rx="6.02" ry="4.29" fill="#a5a5a2" fill-opacity="0.75" stroke="#8b8b89" stroke-opacity="0.55" stroke-width="1.1" transform="rotate(133.15 38.54 80.83)"/><ellipse cx="48.78" cy="82.48" rx="5.87" ry="3.79" fill="#a5a5a2" fill-opacity="0.75" stroke="#8b8b89" stroke-opacity="0.55" stroke-width="1.1" transform="rotate(136.23 48.78 82.48)"/><ellipse cx="55.8" cy="78.04" rx="3.99" ry="3.36" fill="#a5a5a2" fill-opacity="0.75" stroke="#8b8b89" stroke-opacity="0.55" stroke-width="1.1" transform="rotate(28.95 55.8 78.04)"/><ellipse cx="69.25" cy="80.51" rx="4.81" ry="4.17" fill="#a5a5a2" fill-opacity="0.75" stroke="#8b8b89" stroke-opacity="0.55" stroke-width="1.1" transform="rotate(54.84 69.25 80.51)"/><ellipse cx="80.04" cy="79.83" rx="4.23" ry="4.62" fill="#a5a5a2" fill-opacity="0.75" stroke="#8b8b89" stroke-opacity="0.55" stroke-width="1.1" transform="rotate(129.54 80.04 79.83)"/><ellipse cx="88.6" cy="80.47" rx="5.23" ry="3.4" fill="#8b8b89" fill-opacity="0.6" transform="rotate(0.49 88.6 80.47)"/><ellipse cx="101.17" cy="78.54" rx="4.9" ry="3.35" fill="#8b8b89" fill-opacity="0.6" transform="rotate(37.67 101.17 78.54)"/></g></g>
<g id="G"><use href="#gp" fill="#9b9b99" stroke="#858583" stroke-width="1.1" stroke-linejoin="round"/><use href="#GT" clip-path="url(#gm)"/></g>
<clipPath id="gm"><use href="#gp"/></clipPath>
<g id="GC"><use href="#gq" fill="#9b9b99" stroke="#858583" stroke-width="1.1" stroke-linejoin="round"/><use href="#GT"/></g>
<g id="O"><use href="#op" fill="#d4880f" stroke="#a35e08" stroke-width="1.3" stroke-linejoin="round"/><g clip-path="url(#oc)"><g filter="url(#bl)"><ellipse cx="-0.18" cy="-0.63" rx="4.13" ry="4.56" fill="#dc921c" fill-opacity="0.75" stroke="#bd7206" stroke-opacity="0.55" stroke-width="1.1" transform="rotate(1.16 -0.18 -0.63)"/><ellipse cx="12.49" cy="-2.1" rx="5.13" ry="4.11" fill="#dc921c" fill-opacity="0.75" stroke="#bd7206" stroke-opacity="0.55" stroke-width="1.1" transform="rotate(7.36 12.49 -2.1)"/><ellipse cx="22.02" cy="-0.24" rx="5.54" ry="3.28" fill="#bd7206" fill-opacity="0.6" transform="rotate(42.84 22.02 -0.24)"/><ellipse cx="31.53" cy="2.12" rx="5.22" ry="4.39" fill="#dc921c" fill-opacity="0.75" stroke="#bd7206" stroke-opacity="0.55" stroke-width="1.1" transform="rotate(69.06 31.53 2.12)"/><ellipse cx="40.01" cy="-1.04" rx="5.42" ry="4.31" fill="#bd7206" fill-opacity="0.6" transform="rotate(75.92 40.01 -1.04)"/><ellipse cx="51.33" cy="-1.45" rx="4.47" ry="4.46" fill="#dc921c" fill-opacity="0.75" stroke="#bd7206" stroke-opacity="0.55" stroke-width="1.1" transform="rotate(35.91 51.33 -1.45)"/><ellipse cx="64.9" cy="-2.23" rx="4.71" ry="3.89" fill="#dc921c" fill-opacity="0.75" stroke="#bd7206" stroke-opacity="0.55" stroke-width="1.1" transform="rotate(4.23 64.9 -2.23)"/><ellipse cx="75.53" cy="-1.94" rx="5.23" ry="3.22" fill="#dc921c" fill-opacity="0.75" stroke="#bd7206" stroke-opacity="0.55" stroke-width="1.1" transform="rotate(104.17 75.53 -1.94)"/><ellipse cx="82.52" cy="-2.46" rx="4" ry="3.97" fill="#bd7206" fill-opacity="0.6" transform="rotate(3.14 82.52 -2.46)"/><ellipse cx="94.48" cy="2.1" rx="4.81" ry="3.72" fill="#bd7206" fill-opacity="0.6" transform="rotate(114.97 94.48 2.1)"/><ellipse cx="105.4" cy="-1.64" rx="5.26" ry="4.72" fill="#dc921c" fill-opacity="0.75" stroke="#bd7206" stroke-opacity="0.55" stroke-width="1.1" transform="rotate(9.75 105.4 -1.64)"/><ellipse cx="5.78" cy="7.17" rx="4.44" ry="4.79" fill="#bd7206" fill-opacity="0.6" transform="rotate(179.63 5.78 7.17)"/><ellipse cx="16.78" cy="11.18" rx="4.37" ry="4.1" fill="#dc921c" fill-opacity="0.75" stroke="#bd7206" stroke-opacity="0.55" stroke-width="1.1" transform="rotate(7.75 16.78 11.18)"/><ellipse cx="27.12" cy="9.38" rx="5.66" ry="3.16" fill="#dc921c" fill-opacity="0.75" stroke="#bd7206" stroke-opacity="0.55" stroke-width="1.1" transform="rotate(62.5 27.12 9.38)"/><ellipse cx="37.17" cy="8.68" rx="4.77" ry="4.77" fill="#bd7206" fill-opacity="0.6" transform="rotate(103.4 37.17 8.68)"/><ellipse cx="48.75" cy="8.07" rx="4.84" ry="3.38" fill="#dc921c" fill-opacity="0.75" stroke="#bd7206" stroke-opacity="0.55" stroke-width="1.1" transform="rotate(79.92 48.75 8.07)"/><ellipse cx="55.69" cy="9.57" rx="4.05" ry="4.41" fill="#dc921c" fill-opacity="0.75" stroke="#bd7206" stroke-opacity="0.55" stroke-width="1.1" transform="rotate(4.57 55.69 9.57)"/><ellipse cx="69.79" cy="8.91" rx="5.5" ry="3.45" fill="#dc921c" fill-opacity="0.75" stroke="#bd7206" stroke-opacity="0.55" stroke-width="1.1" transform="rotate(132.77 69.79 8.91)"/><ellipse cx="77.4" cy="11.25" rx="4.76" ry="3.67" fill="#dc921c" fill-opacity="0.75" stroke="#bd7206" stroke-opacity="0.55" stroke-width="1.1" transform="rotate(154.78 77.4 11.25)"/><ellipse cx="90.09" cy="7.28" rx="5.82" ry="3.47" fill="#dc921c" fill-opacity="0.75" stroke="#bd7206" stroke-opacity="0.55" stroke-width="1.1" transform="rotate(9.09 90.09 7.28)"/><ellipse cx="98.11" cy="11.16" rx="6.17" ry="4.09" fill="#bd7206" fill-opacity="0.6" transform="rotate(2.14 98.11 11.16)"/><ellipse cx="108.79" cy="8.37" rx="5.27" ry="4.74" fill="#bd7206" fill-opacity="0.6" transform="rotate(63.82 108.79 8.37)"/><ellipse cx="0.31" cy="16.04" rx="4.01" ry="4" fill="#bd7206" fill-opacity="0.6" transform="rotate(125.28 0.31 16.04)"/><ellipse cx="10.26" cy="18.87" rx="5.63" ry="3.69" fill="#bd7206" fill-opacity="0.6" transform="rotate(159.69 10.26 18.87)"/><ellipse cx="22.08" cy="19.21" rx="5.91" ry="3.89" fill="#bd7206" fill-opacity="0.6" transform="rotate(17.86 22.08 19.21)"/><ellipse cx="31.64" cy="16.22" rx="5.31" ry="3.15" fill="#bd7206" fill-opacity="0.6" transform="rotate(140.43 31.64 16.22)"/><ellipse cx="39.57" cy="16.23" rx="4.9" ry="4.01" fill="#bd7206" fill-opacity="0.6" transform="rotate(69.89 39.57 16.23)"/><ellipse cx="52.41" cy="20.08" rx="5.09" ry="4.69" fill="#dc921c" fill-opacity="0.75" stroke="#bd7206" stroke-opacity="0.55" stroke-width="1.1" transform="rotate(5.18 52.41 20.08)"/><ellipse cx="64.94" cy="18.07" rx="5.06" ry="3.97" fill="#bd7206" fill-opacity="0.6" transform="rotate(163.72 64.94 18.07)"/><ellipse cx="74.21" cy="18.06" rx="4.52" ry="4.3" fill="#bd7206" fill-opacity="0.6" transform="rotate(129.72 74.21 18.06)"/><ellipse cx="85" cy="17.62" rx="4.98" ry="4.15" fill="#dc921c" fill-opacity="0.75" stroke="#bd7206" stroke-opacity="0.55" stroke-width="1.1" transform="rotate(9.53 85 17.62)"/><ellipse cx="93.87" cy="19.74" rx="4.35" ry="4.48" fill="#dc921c" fill-opacity="0.75" stroke="#bd7206" stroke-opacity="0.55" stroke-width="1.1" transform="rotate(131.33 93.87 19.74)"/><ellipse cx="106.88" cy="15.53" rx="5.23" ry="4.1" fill="#dc921c" fill-opacity="0.75" stroke="#bd7206" stroke-opacity="0.55" stroke-width="1.1" transform="rotate(122.05 106.88 15.53)"/><ellipse cx="3.09" cy="25.22" rx="5.26" ry="3.33" fill="#dc921c" fill-opacity="0.75" stroke="#bd7206" stroke-opacity="0.55" stroke-width="1.1" transform="rotate(11.68 3.09 25.22)"/><ellipse cx="15.6" cy="26.95" rx="3.86" ry="4.4" fill="#dc921c" fill-opacity="0.75" stroke="#bd7206" stroke-opacity="0.55" stroke-width="1.1" transform="rotate(60.09 15.6 26.95)"/><ellipse cx="23.79" cy="29.05" rx="5.22" ry="4.76" fill="#dc921c" fill-opacity="0.75" stroke="#bd7206" stroke-opacity="0.55" stroke-width="1.1" transform="rotate(177.54 23.79 29.05)"/><ellipse cx="34.78" cy="26.02" rx="4.36" ry="4.4" fill="#bd7206" fill-opacity="0.6" transform="rotate(34.59 34.78 26.02)"/><ellipse cx="45.3" cy="24.88" rx="6.05" ry="4.76" fill="#dc921c" fill-opacity="0.75" stroke="#bd7206" stroke-opacity="0.55" stroke-width="1.1" transform="rotate(67.04 45.3 24.88)"/><ellipse cx="57.59" cy="26.89" rx="4.69" ry="4.14" fill="#bd7206" fill-opacity="0.6" transform="rotate(42.51 57.59 26.89)"/><ellipse cx="68.34" cy="25.26" rx="4.85" ry="4.7" fill="#bd7206" fill-opacity="0.6" transform="rotate(4 68.34 25.26)"/><ellipse cx="80.25" cy="24.56" rx="4.4" ry="4.53" fill="#bd7206" fill-opacity="0.6" transform="rotate(108.95 80.25 24.56)"/><ellipse cx="87.04" cy="25.65" rx="4.52" ry="4.44" fill="#dc921c" fill-opacity="0.75" stroke="#bd7206" stroke-opacity="0.55" stroke-width="1.1" transform="rotate(175.6 87.04 25.65)"/><ellipse cx="101.76" cy="28.93" rx="5.9" ry="4.66" fill="#bd7206" fill-opacity="0.6" transform="rotate(174.16 101.76 28.93)"/><ellipse cx="109.34" cy="25.51" rx="5.25" ry="3.89" fill="#dc921c" fill-opacity="0.75" stroke="#bd7206" stroke-opacity="0.55" stroke-width="1.1" transform="rotate(62.45 109.34 25.51)"/><ellipse cx="-0.5" cy="34.24" rx="4.46" ry="3.83" fill="#dc921c" fill-opacity="0.75" stroke="#bd7206" stroke-opacity="0.55" stroke-width="1.1" transform="rotate(109.88 -0.5 34.24)"/><ellipse cx="10.2" cy="34.13" rx="4.77" ry="3.59" fill="#dc921c" fill-opacity="0.75" stroke="#bd7206" stroke-opacity="0.55" stroke-width="1.1" transform="rotate(30.7 10.2 34.13)"/><ellipse cx="19.44" cy="36.76" rx="5.38" ry="3.25" fill="#dc921c" fill-opacity="0.75" stroke="#bd7206" stroke-opacity="0.55" stroke-width="1.1" transform="rotate(112.57 19.44 36.76)"/><ellipse cx="31.24" cy="36.23" rx="5.63" ry="4.59" fill="#bd7206" fill-opacity="0.6" transform="rotate(132.04 31.24 36.23)"/><ellipse cx="42.21" cy="34.88" rx="3.85" ry="3.99" fill="#dc921c" fill-opacity="0.75" stroke="#bd7206" stroke-opacity="0.55" stroke-width="1.1" transform="rotate(84.71 42.21 34.88)"/><ellipse cx="51.62" cy="37.37" rx="5.03" ry="3.18" fill="#bd7206" fill-opacity="0.6" transform="rotate(129.05 51.62 37.37)"/><ellipse cx="63.17" cy="33.56" rx="3.83" ry="4.66" fill="#bd7206" fill-opacity="0.6" transform="rotate(7.56 63.17 33.56)"/><ellipse cx="71.82" cy="33.68" rx="5.78" ry="4.79" fill="#dc921c" fill-opacity="0.75" stroke="#bd7206" stroke-opacity="0.55" stroke-width="1.1" transform="rotate(116.85 71.82 33.68)"/><ellipse cx="85.94" cy="35.73" rx="4.12" ry="4.24" fill="#bd7206" fill-opacity="0.6" transform="rotate(64.62 85.94 35.73)"/><ellipse cx="93.6" cy="35.13" rx="4.24" ry="4.1" fill="#dc921c" fill-opacity="0.75" stroke="#bd7206" stroke-opacity="0.55" stroke-width="1.1" transform="rotate(156.31 93.6 35.13)"/><ellipse cx="102.55" cy="36.62" rx="3.85" ry="3.86" fill="#dc921c" fill-opacity="0.75" stroke="#bd7206" stroke-opacity="0.55" stroke-width="1.1" transform="rotate(155.83 102.55 36.62)"/><ellipse cx="7.29" cy="45.9" rx="4.45" ry="3.26" fill="#dc921c" fill-opacity="0.75" stroke="#bd7206" stroke-opacity="0.55" stroke-width="1.1" transform="rotate(81.27 7.29 45.9)"/><ellipse cx="14.41" cy="43.78" rx="5.6" ry="3.63" fill="#dc921c" fill-opacity="0.75" stroke="#bd7206" stroke-opacity="0.55" stroke-width="1.1" transform="rotate(108.16 14.41 43.78)"/><ellipse cx="28.39" cy="42.26" rx="4.25" ry="4.4" fill="#bd7206" fill-opacity="0.6" transform="rotate(120.44 28.39 42.26)"/><ellipse cx="34.92" cy="43.18" rx="5.1" ry="4.62" fill="#bd7206" fill-opacity="0.6" transform="rotate(38.98 34.92 43.18)"/><ellipse cx="48.18" cy="44.24" rx="5.83" ry="4.8" fill="#dc921c" fill-opacity="0.75" stroke="#bd7206" stroke-opacity="0.55" stroke-width="1.1" transform="rotate(168.51 48.18 44.24)"/><ellipse cx="57.73" cy="42.43" rx="5.74" ry="3.72" fill="#dc921c" fill-opacity="0.75" stroke="#bd7206" stroke-opacity="0.55" stroke-width="1.1" transform="rotate(83.45 57.73 42.43)"/><ellipse cx="70.57" cy="44.9" rx="6" ry="4.74" fill="#dc921c" fill-opacity="0.75" stroke="#bd7206" stroke-opacity="0.55" stroke-width="1.1" transform="rotate(15.28 70.57 44.9)"/><ellipse cx="80.69" cy="45.96" rx="6.13" ry="3.34" fill="#dc921c" fill-opacity="0.75" stroke="#bd7206" stroke-opacity="0.55" stroke-width="1.1" transform="rotate(95.61 80.69 45.96)"/><ellipse cx="89.45" cy="45.48" rx="6.14" ry="3.31" fill="#dc921c" fill-opacity="0.75" stroke="#bd7206" stroke-opacity="0.55" stroke-width="1.1" transform="rotate(10.17 89.45 45.48)"/><ellipse cx="100.16" cy="43.13" rx="5.8" ry="3.51" fill="#bd7206" fill-opacity="0.6" transform="rotate(23.36 100.16 43.13)"/><ellipse cx="107.93" cy="44.15" rx="5.67" ry="3.82" fill="#bd7206" fill-opacity="0.6" transform="rotate(173.63 107.93 44.15)"/><ellipse cx="-1.63" cy="51.77" rx="5.18" ry="3.36" fill="#dc921c" fill-opacity="0.75" stroke="#bd7206" stroke-opacity="0.55" stroke-width="1.1" transform="rotate(120.1 -1.63 51.77)"/><ellipse cx="10.9" cy="55.27" rx="5.7" ry="4.66" fill="#dc921c" fill-opacity="0.75" stroke="#bd7206" stroke-opacity="0.55" stroke-width="1.1" transform="rotate(27.38 10.9 55.27)"/><ellipse cx="23.3" cy="53.03" rx="4.49" ry="3.87" fill="#dc921c" fill-opacity="0.75" stroke="#bd7206" stroke-opacity="0.55" stroke-width="1.1" transform="rotate(32.56 23.3 53.03)"/><ellipse cx="32.18" cy="51.52" rx="6.11" ry="3.94" fill="#dc921c" fill-opacity="0.75" stroke="#bd7206" stroke-opacity="0.55" stroke-width="1.1" transform="rotate(45.67 32.18 51.52)"/><ellipse cx="44.25" cy="52.78" rx="3.83" ry="3.36" fill="#dc921c" fill-opacity="0.75" stroke="#bd7206" stroke-opacity="0.55" stroke-width="1.1" transform="rotate(10.56 44.25 52.78)"/><ellipse cx="51.56" cy="55.31" rx="4.29" ry="3.03" fill="#bd7206" fill-opacity="0.6" transform="rotate(83.64 51.56 55.31)"/><ellipse cx="62.05" cy="52.18" rx="4.23" ry="4.15" fill="#dc921c" fill-opacity="0.75" stroke="#bd7206" stroke-opacity="0.55" stroke-width="1.1" transform="rotate(168.52 62.05 52.18)"/><ellipse cx="74.19" cy="52.67" rx="6" ry="4" fill="#dc921c" fill-opacity="0.75" stroke="#bd7206" stroke-opacity="0.55" stroke-width="1.1" transform="rotate(5.27 74.19 52.67)"/><ellipse cx="82.55" cy="51.28" rx="3.85" ry="4.51" fill="#dc921c" fill-opacity="0.75" stroke="#bd7206" stroke-opacity="0.55" stroke-width="1.1" transform="rotate(127.77 82.55 51.28)"/><ellipse cx="94.79" cy="54.58" rx="3.98" ry="4.27" fill="#dc921c" fill-opacity="0.75" stroke="#bd7206" stroke-opacity="0.55" stroke-width="1.1" transform="rotate(127.58 94.79 54.58)"/><ellipse cx="102.8" cy="53.91" rx="5.02" ry="4.52" fill="#dc921c" fill-opacity="0.75" stroke="#bd7206" stroke-opacity="0.55" stroke-width="1.1" transform="rotate(65.54 102.8 53.91)"/><ellipse cx="7.24" cy="61.72" rx="5.04" ry="4.61" fill="#dc921c" fill-opacity="0.75" stroke="#bd7206" stroke-opacity="0.55" stroke-width="1.1" transform="rotate(6.14 7.24 61.72)"/><ellipse cx="14.81" cy="62.26" rx="4.49" ry="4.44" fill="#dc921c" fill-opacity="0.75" stroke="#bd7206" stroke-opacity="0.55" stroke-width="1.1" transform="rotate(95.88 14.81 62.26)"/><ellipse cx="24.27" cy="64.38" rx="5.77" ry="4.22" fill="#bd7206" fill-opacity="0.6" transform="rotate(40.1 24.27 64.38)"/><ellipse cx="36.51" cy="60.3" rx="6.09" ry="3.73" fill="#bd7206" fill-opacity="0.6" transform="rotate(171.61 36.51 60.3)"/><ellipse cx="47.99" cy="63.97" rx="5.35" ry="3.76" fill="#dc921c" fill-opacity="0.75" stroke="#bd7206" stroke-opacity="0.55" stroke-width="1.1" transform="rotate(3.44 47.99 63.97)"/><ellipse cx="57.2" cy="64.7" rx="6.14" ry="4.72" fill="#bd7206" fill-opacity="0.6" transform="rotate(176.43 57.2 64.7)"/><ellipse cx="65.9" cy="61.44" rx="3.82" ry="3.21" fill="#bd7206" fill-opacity="0.6" transform="rotate(103.89 65.9 61.44)"/><ellipse cx="79.3" cy="61.88" rx="4.46" ry="4.74" fill="#dc921c" fill-opacity="0.75" stroke="#bd7206" stroke-opacity="0.55" stroke-width="1.1" transform="rotate(33.53 79.3 61.88)"/><ellipse cx="89.38" cy="63.29" rx="4.15" ry="4.34" fill="#bd7206" fill-opacity="0.6" transform="rotate(160.12 89.38 63.29)"/><ellipse cx="99.61" cy="63.24" rx="4.94" ry="4.35" fill="#dc921c" fill-opacity="0.75" stroke="#bd7206" stroke-opacity="0.55" stroke-width="1.1" transform="rotate(115.98 99.61 63.24)"/><ellipse cx="111.16" cy="63.84" rx="4.91" ry="4.06" fill="#dc921c" fill-opacity="0.75" stroke="#bd7206" stroke-opacity="0.55" stroke-width="1.1" transform="rotate(114.23 111.16 63.84)"/><ellipse cx="-2.06" cy="70.94" rx="5.67" ry="4.3" fill="#dc921c" fill-opacity="0.75" stroke="#bd7206" stroke-opacity="0.55" stroke-width="1.1" transform="rotate(13.36 -2.06 70.94)"/><ellipse cx="10.94" cy="71.56" rx="4.16" ry="4.16" fill="#dc921c" fill-opacity="0.75" stroke="#bd7206" stroke-opacity="0.55" stroke-width="1.1" transform="rotate(125.52 10.94 71.56)"/><ellipse cx="23.2" cy="71.79" rx="3.83" ry="3.51" fill="#bd7206" fill-opacity="0.6" transform="rotate(126.37 23.2 71.79)"/><ellipse cx="33.83" cy="72.4" rx="5.64" ry="3.31" fill="#dc921c" fill-opacity="0.75" stroke="#bd7206" stroke-opacity="0.55" stroke-width="1.1" transform="rotate(1.22 33.83 72.4)"/><ellipse cx="42.05" cy="71.11" rx="5.04" ry="4.38" fill="#dc921c" fill-opacity="0.75" stroke="#bd7206" stroke-opacity="0.55" stroke-width="1.1" transform="rotate(67.05 42.05 71.11)"/><ellipse cx="50.81" cy="73.8" rx="5.47" ry="3.57" fill="#dc921c" fill-opacity="0.75" stroke="#bd7206" stroke-opacity="0.55" stroke-width="1.1" transform="rotate(85.88 50.81 73.8)"/><ellipse cx="62.13" cy="72.4" rx="5.98" ry="4.73" fill="#dc921c" fill-opacity="0.75" stroke="#bd7206" stroke-opacity="0.55" stroke-width="1.1" transform="rotate(46.03 62.13 72.4)"/><ellipse cx="74.04" cy="72.94" rx="3.97" ry="3.74" fill="#dc921c" fill-opacity="0.75" stroke="#bd7206" stroke-opacity="0.55" stroke-width="1.1" transform="rotate(81.28 74.04 72.94)"/><ellipse cx="83.76" cy="69.11" rx="4.3" ry="4.5" fill="#dc921c" fill-opacity="0.75" stroke="#bd7206" stroke-opacity="0.55" stroke-width="1.1" transform="rotate(158.92 83.76 69.11)"/><ellipse cx="92.4" cy="72.77" rx="5.88" ry="3.52" fill="#bd7206" fill-opacity="0.6" transform="rotate(86.73 92.4 72.77)"/><ellipse cx="102.77" cy="72.57" rx="4.18" ry="3.16" fill="#bd7206" fill-opacity="0.6" transform="rotate(163.69 102.77 72.57)"/></g></g></g>
<linearGradient id="mg" gradientUnits="objectBoundingBox" x1="0" y1="0" x2="1" y2="1"><stop offset="0" stop-color="#dc1fd0"/><stop offset="1" stop-color="#c324cc"/></linearGradient>
</defs>
<path d="M81.5 50.8V309.3H401.5M81.5 309.3v4.8M145.5 309.3v4.8M209.5 309.3v4.8M273.5 309.3v4.8M337.5 309.3v4.8M401.5 309.3v4.8M113.5 309.3v2.3M177.5 309.3v2.3M241.5 309.3v2.3M305.5 309.3v2.3M369.5 309.3v2.3M81.5 75h-4.8M81.5 133.6h-4.8M81.5 192.2h-4.8M81.5 250.8h-4.8M81.5 309.4h-4.8M81.5 104.3h-2.3M81.5 162.9h-2.3M81.5 221.5h-2.3M81.5 280.1h-2.3" fill="none" stroke="#000" stroke-width="1.65" stroke-linecap="square"/>
<text x="81.50" y="330.80" font-size="19.2" class="m" textLength="9.41" lengthAdjust="spacingAndGlyphs">0</text>
<text x="145.50" y="330.80" font-size="19.2" class="m" textLength="37.63" lengthAdjust="spacingAndGlyphs">1000</text>
<text x="209.50" y="330.80" font-size="19.2" class="m" textLength="37.63" lengthAdjust="spacingAndGlyphs">2000</text>
<text x="273.50" y="330.80" font-size="19.2" class="m" textLength="37.63" lengthAdjust="spacingAndGlyphs">3000</text>
<text x="337.50" y="330.80" font-size="19.2" class="m" textLength="37.63" lengthAdjust="spacingAndGlyphs">4000</text>
<text x="401.50" y="330.80" font-size="19.2" class="m" textLength="37.63" lengthAdjust="spacingAndGlyphs">5000</text>
<text x="73.50" y="80.80" font-size="19.2" class="e" textLength="23.52" lengthAdjust="spacingAndGlyphs">0.0</text>
<text x="73.50" y="139.40" font-size="19.2" class="e" textLength="30.29" lengthAdjust="spacingAndGlyphs">-0.5</text>
<text x="73.50" y="198.00" font-size="19.2" class="e" textLength="30.29" lengthAdjust="spacingAndGlyphs">-1.0</text>
<text x="73.50" y="256.60" font-size="19.2" class="e" textLength="30.29" lengthAdjust="spacingAndGlyphs">-1.5</text>
<text x="73.50" y="315.20" font-size="19.2" class="e" textLength="30.29" lengthAdjust="spacingAndGlyphs">-2.0</text>
<path d="M81.5 75H398.3" stroke="#c4c4c4" stroke-width="0.8" fill="none"/>
<path d="M81.5 75 L99.55 75 L100.51 77.34 L102.43 244.12 L102.88 131.42 L103.32 109.22 L103.77 95.75 L104.22 87.59 L104.67 82.64 L105.12 79.63 L105.56 77.81 L106.01 76.7 L106.46 76.03 L106.91 75.63 L107.36 75.38 L107.8 75.23 L108.25 75.14 L118.49 75 L119.45 77.34 L121.37 296.39 L121.82 148.85 L122.27 119.79 L122.72 102.17 L123.16 91.48 L123.61 85 L124.06 81.06 L124.51 78.68 L124.96 77.23 L125.4 76.35 L125.85 75.82 L126.3 75.5 L126.75 75.3 L127.2 75.18 L137.5 75 L138.46 77.34 L140.38 278.11 L140.83 142.76 L141.28 116.1 L141.72 99.93 L142.17 90.12 L142.62 84.17 L143.07 80.56 L143.52 78.37 L143.96 77.05 L144.41 76.24 L144.86 75.75 L145.31 75.46 L145.76 75.28 L146.2 75.17 L156.83 75 L157.79 77.34 L159.71 261.82 L160.16 137.32 L160.6 112.8 L161.05 97.93 L161.5 88.91 L161.95 83.43 L162.4 80.12 L162.84 78.1 L163.29 76.88 L163.74 76.14 L164.19 75.69 L164.64 75.42 L165.08 75.25 L165.53 75.15 L176.09 75 L177.05 77.34 L178.97 249.16 L179.42 133.1 L179.87 110.24 L180.32 96.37 L180.76 87.96 L181.21 82.86 L181.66 79.77 L182.11 77.89 L182.56 76.75 L183 76.06 L183.45 75.65 L183.9 75.39 L184.35 75.24 L184.8 75.14 L195.48 75 L196.44 77.34 L198.36 234.04 L198.81 128.05 L199.26 107.18 L199.71 94.52 L200.16 86.84 L200.6 82.18 L201.05 79.35 L201.5 77.64 L201.95 76.6 L202.4 75.97 L202.84 75.59 L203.29 75.36 L203.74 75.22 L204.19 75.13 L214.49 75 L215.45 77.34 L217.37 220.8 L217.82 123.64 L218.27 104.5 L218.72 92.89 L219.16 85.85 L219.61 81.58 L220.06 78.99 L220.51 77.42 L220.96 76.47 L221.4 75.89 L221.85 75.54 L222.3 75.33 L222.75 75.2 L223.2 75.12 L233.82 75 L234.78 77.34 L236.7 210.25 L237.15 120.12 L237.6 102.37 L238.04 91.6 L238.49 85.07 L238.94 81.11 L239.39 78.7 L239.84 77.25 L240.28 76.36 L240.73 75.83 L241.18 75.5 L241.63 75.3 L242.08 75.18 L242.52 75.11 L239.5 78.08 L241.23 86.75 L242.97 76.34 L245.57 74.61 L247.3 77.21 L249.04 74.61 L250.77 80.68 L252.51 72.87 L254.24 65.93 L255.98 60.73 L257.71 69.4 L260.32 74.61 L262.05 65.93 L263.79 60.73 L265.52 69.4 L268.12 65.06 L269.86 67.67 L271.59 65.93 L273.33 68.53 L275.06 77.21 L277.67 74.61 L279.4 76.34 L281.14 72 L282.87 75.47 L285.47 77.21 L287.21 81.55 L289.81 74.61 L292.41 85.02 L295.02 81.55 L296.75 72.87 L299.35 71.14 L301.96 79.81 L304.56 81.55 L307.16 76.34 L308.9 82.41 L311.5 72.87 L313.23 71.14 L314.97 79.81 L316.7 74.61 L319.31 68.53 L321.04 71.14 L323.64 74.61 L326.25 72.87 L328.85 69.4 L331.45 65.06 L333.19 64.2 L334.92 72.87 L336.31 80.68 L338.39 65.93 L340.99 72.87 L343.6 66.8 L346.2 76.34 L348.8 82.41 L350.54 71.14 L353.14 69.4 L355.74 75.47 L358.34 69.4 L359.56 78.94 L362.68 69.4 L365.28 83.28 L367.02 85.02 L368.75 72.87 L371.36 66.8 L373.96 74.61 L376.56 75.47 L379.17 74.61 L381.77 79.81 L383.5 71.14 L386.11 76.34 L388.71 80.68 L391.31 78.08 L393.91 73.74 L395.65 74.61 L397.38 62.46 L399.12 71.14 L400.85 76.34" fill="none" stroke="#000" stroke-width="1.75" stroke-linejoin="round"/>
<text x="241.50" y="354.00" font-size="21.5" class="m" textLength="77.00" lengthAdjust="spacingAndGlyphs">Time (s)</text>
<text x="37.00" y="179.50" font-size="19.5" class="m" transform="rotate(-90 37.00 179.50)">Heat Rate (μJ/s)</text>
<text x="16.80" y="32.60" font-size="30" textLength="23.80" lengthAdjust="spacingAndGlyphs">a)</text>
<text x="45.50" y="32.20" font-size="18.7" textLength="310.00" lengthAdjust="spacingAndGlyphs">RdRp-PROTAC 10-CRBN (Ternary</text>
<text x="160.00" y="55.40" font-size="18.7" textLength="81.00" lengthAdjust="spacingAndGlyphs">Complex)</text>
<path d="M479.9 52.2V309.3H798.7M479.9 309.3v4.8M543.66 309.3v4.8M607.42 309.3v4.8M671.18 309.3v4.8M734.94 309.3v4.8M798.7 309.3v4.8M511.78 309.3v2.3M575.54 309.3v2.3M639.3 309.3v2.3M703.06 309.3v2.3M766.82 309.3v2.3M479.9 52.41h-4.8M479.9 81h-4.8M479.9 109.59h-4.8M479.9 138.17h-4.8M479.9 166.75h-4.8M479.9 195.34h-4.8M479.9 223.93h-4.8M479.9 252.51h-4.8M479.9 281.1h-4.8M479.9 309.68h-4.8M479.9 66.71h-2.3M479.9 95.29h-2.3M479.9 123.88h-2.3M479.9 152.46h-2.3M479.9 181.05h-2.3M479.9 209.63h-2.3M479.9 238.22h-2.3M479.9 266.8h-2.3M479.9 295.39h-2.3" fill="none" stroke="#000" stroke-width="1.65" stroke-linecap="square"/>
<text x="479.90" y="330.80" font-size="19.2" class="m" textLength="9.41" lengthAdjust="spacingAndGlyphs">0</text>
<text x="543.66" y="330.80" font-size="19.2" class="m" textLength="37.63" lengthAdjust="spacingAndGlyphs">1000</text>
<text x="607.42" y="330.80" font-size="19.2" class="m" textLength="37.63" lengthAdjust="spacingAndGlyphs">2000</text>
<text x="671.18" y="330.80" font-size="19.2" class="m" textLength="37.63" lengthAdjust="spacingAndGlyphs">3000</text>
<text x="734.94" y="330.80" font-size="19.2" class="m" textLength="37.63" lengthAdjust="spacingAndGlyphs">4000</text>
<text x="798.70" y="330.80" font-size="19.2" class="m" textLength="37.63" lengthAdjust="spacingAndGlyphs">5000</text>
<text x="471.90" y="58.21" font-size="19.2" class="e" textLength="23.52" lengthAdjust="spacingAndGlyphs">0.5</text>
<text x="471.90" y="86.80" font-size="19.2" class="e" textLength="23.52" lengthAdjust="spacingAndGlyphs">0.0</text>
<text x="471.90" y="115.39" font-size="19.2" class="e" textLength="30.29" lengthAdjust="spacingAndGlyphs">-0.5</text>
<text x="471.90" y="143.97" font-size="19.2" class="e" textLength="30.29" lengthAdjust="spacingAndGlyphs">-1.0</text>
<text x="471.90" y="172.56" font-size="19.2" class="e" textLength="30.29" lengthAdjust="spacingAndGlyphs">-1.5</text>
<text x="471.90" y="201.14" font-size="19.2" class="e" textLength="30.29" lengthAdjust="spacingAndGlyphs">-2.0</text>
<text x="471.90" y="229.73" font-size="19.2" class="e" textLength="30.29" lengthAdjust="spacingAndGlyphs">-2.5</text>
<text x="471.90" y="258.31" font-size="19.2" class="e" textLength="30.29" lengthAdjust="spacingAndGlyphs">-3.0</text>
<text x="471.90" y="286.90" font-size="19.2" class="e" textLength="30.29" lengthAdjust="spacingAndGlyphs">-3.5</text>
<text x="471.90" y="315.48" font-size="19.2" class="e" textLength="30.29" lengthAdjust="spacingAndGlyphs">-4.0</text>
<path d="M479.9 81H763.63" stroke="#c4c4c4" stroke-width="0.8" fill="none"/>
<path d="M479.9 81 L498.65 81 L499.47 82.14 L500.88 261.09 L501.51 128.12 L502.15 105.82 L502.79 96.13 L503.43 91.37 L504.07 88.66 L504.7 86.9 L505.34 85.64 L505.98 84.68 L506.62 83.93 L507.25 83.35 L507.89 82.88 L508.53 82.5 L509.17 82.2 L509.8 81.96 L510.44 81.77 L511.4 81 L512.23 82.14 L513.63 279.95 L514.27 133.05 L514.9 108.42 L515.54 97.71 L516.18 92.45 L516.82 89.46 L517.45 87.52 L518.09 86.12 L518.73 85.07 L519.37 84.24 L520.01 83.59 L520.64 83.07 L521.28 82.66 L521.92 82.33 L522.56 82.06 L523.19 81.85 L524.15 81 L524.98 82.14 L526.38 242.22 L527.02 123.18 L527.66 103.22 L528.29 94.54 L528.93 90.28 L529.57 87.86 L530.21 86.28 L530.84 85.15 L531.48 84.29 L532.12 83.63 L532.76 83.1 L533.39 82.68 L534.03 82.34 L534.67 82.08 L535.31 81.86 L535.95 81.69 L536.9 81 L537.73 82.14 L539.13 205.63 L539.77 113.61 L540.41 98.18 L541.05 91.47 L541.68 88.18 L542.32 86.3 L542.96 85.08 L543.6 84.21 L544.23 83.55 L544.87 83.03 L545.51 82.62 L546.15 82.3 L546.78 82.04 L547.42 81.83 L548.06 81.67 L548.7 81.53 L549.65 81 L550.48 82.14 L551.89 177.05 L552.52 106.13 L553.16 94.24 L553.8 89.07 L554.44 86.53 L555.07 85.09 L555.71 84.15 L556.35 83.47 L556.99 82.96 L557.62 82.57 L558.26 82.25 L558.9 82 L559.54 81.8 L560.17 81.64 L560.81 81.51 L561.45 81.41 L562.41 81 L563.23 82.14 L564.64 154.75 L565.27 100.3 L565.91 91.17 L566.55 87.2 L567.19 85.25 L567.83 84.14 L568.46 83.42 L569.1 82.9 L569.74 82.51 L570.38 82.2 L571.01 81.96 L571.65 81.77 L572.29 81.62 L572.93 81.49 L573.56 81.39 L574.2 81.32 L575.16 81 L575.99 82.14 L577.39 138.17 L578.03 95.96 L578.66 88.88 L579.3 85.8 L579.94 84.29 L580.58 83.43 L581.21 82.87 L581.85 82.47 L582.49 82.17 L583.13 81.93 L583.77 81.74 L584.4 81.6 L585.04 81.48 L585.68 81.38 L586.32 81.31 L586.95 81.24 L587.91 81 L588.74 82.14 L590.14 127.31 L590.78 93.12 L591.42 87.38 L592.05 84.89 L592.69 83.67 L593.33 82.97 L593.97 82.52 L594.6 82.19 L595.24 81.95 L595.88 81.75 L596.52 81.6 L597.15 81.48 L597.79 81.39 L598.43 81.31 L599.07 81.25 L599.71 81.2 L600.66 81 L601.49 82.14 L602.89 118.73 L603.53 90.87 L604.17 86.2 L604.81 84.17 L605.44 83.17 L606.08 82.6 L606.72 82.24 L607.36 81.97 L607.99 81.77 L608.63 81.61 L609.27 81.49 L609.91 81.39 L610.54 81.31 L611.18 81.25 L611.82 81.2 L612.46 81.16 L613.41 81 L614.24 82.14 L615.65 112.44 L616.28 89.23 L616.92 85.33 L617.56 83.64 L618.2 82.81 L618.83 82.34 L619.47 82.03 L620.11 81.81 L620.75 81.64 L621.38 81.51 L622.02 81.41 L622.66 81.33 L623.3 81.26 L623.93 81.21 L624.57 81.17 L625.21 81.13 L626.17 81 L626.99 82.14 L628.4 109.01 L629.03 88.33 L629.67 84.86 L630.31 83.35 L630.95 82.61 L631.59 82.19 L632.22 81.92 L632.86 81.72 L633.5 81.57 L634.14 81.46 L634.77 81.36 L635.41 81.29 L636.05 81.23 L636.69 81.19 L637.32 81.15 L637.96 81.12 L638.22 81.2 L639.95 86.75 L641.69 88.49 L644.29 85.02 L646.89 85.88 L649.5 81.55 L651.23 79.81 L652.97 85.88 L655.57 80.68 L658.17 81.55 L660.77 83.28 L663.38 79.81 L665.98 80.68 L668.58 76.34 L670.32 81.55 L672.05 77.21 L673.79 85.02 L675.52 78.08 L677.26 73.74 L678.99 85.02 L681.59 80.68 L684.2 79.81 L686.8 76.34 L688.53 81.55 L691.14 72.87 L693.74 74.61 L696.34 72.87 L698.94 72 L700.68 79.81 L703.28 82.41 L705.88 79.81 L708.49 83.28 L710.22 77.21 L712.82 82.41 L714.56 86.75 L717.16 81.55 L719.76 78.94 L722.37 78.08 L724.97 75.47 L726.7 81.55 L728.96 72.87 L731.04 80.68 L733.64 76.34 L736.25 83.28 L738.85 90.22 L740.24 98.03 L741.45 86.75 L744.05 83.28 L746.66 81.55 L749.26 79.81 L751.86 78.08 L754.46 84.15 L757.07 78.08 L758.46 71.14 L760.19 79.81 L762.27 78.08 L764.87 79.81 L767.13 81.2" fill="none" stroke="#000" stroke-width="1.75" stroke-linejoin="round"/>
<text x="639.50" y="352.50" font-size="22" class="m" textLength="77.00" lengthAdjust="spacingAndGlyphs">Time (s)</text>
<text x="436.00" y="181.00" font-size="19.5" class="m" transform="rotate(-90 436.00 181.00)">Heat Rate (μJ/s)</text>
<text x="430.00" y="33.00" font-size="30" textLength="24.80" lengthAdjust="spacingAndGlyphs">b)</text>
<text x="460.50" y="32.40" font-size="18.7" textLength="323.00" lengthAdjust="spacingAndGlyphs">PROTAC 10-RdRp (Binary Complex)</text>
<path d="M878.3 47.7V304.6H1200.5M878.3 304.6v4.8M942.74 304.6v4.8M1007.18 304.6v4.8M1071.62 304.6v4.8M1136.06 304.6v4.8M1200.5 304.6v4.8M910.52 304.6v2.3M974.96 304.6v2.3M1039.4 304.6v2.3M1103.84 304.6v2.3M1168.28 304.6v2.3M878.3 47.88h-4.8M878.3 80h-4.8M878.3 112.12h-4.8M878.3 144.24h-4.8M878.3 176.36h-4.8M878.3 208.48h-4.8M878.3 240.6h-4.8M878.3 272.72h-4.8M878.3 304.84h-4.8M878.3 63.94h-2.3M878.3 96.06h-2.3M878.3 128.18h-2.3M878.3 160.3h-2.3M878.3 192.42h-2.3M878.3 224.54h-2.3M878.3 256.66h-2.3M878.3 288.78h-2.3" fill="none" stroke="#000" stroke-width="1.65" stroke-linecap="square"/>
<text x="878.30" y="326.10" font-size="19.2" class="m" textLength="9.41" lengthAdjust="spacingAndGlyphs">0</text>
<text x="942.74" y="326.10" font-size="19.2" class="m" textLength="37.63" lengthAdjust="spacingAndGlyphs">1000</text>
<text x="1007.18" y="326.10" font-size="19.2" class="m" textLength="37.63" lengthAdjust="spacingAndGlyphs">2000</text>
<text x="1071.62" y="326.10" font-size="19.2" class="m" textLength="37.63" lengthAdjust="spacingAndGlyphs">3000</text>
<text x="1136.06" y="326.10" font-size="19.2" class="m" textLength="37.63" lengthAdjust="spacingAndGlyphs">4000</text>
<text x="1200.50" y="326.10" font-size="19.2" class="m" textLength="37.63" lengthAdjust="spacingAndGlyphs">5000</text>
<text x="870.30" y="53.68" font-size="19.2" class="e" textLength="9.41" lengthAdjust="spacingAndGlyphs">2</text>
<text x="870.30" y="85.80" font-size="19.2" class="e" textLength="9.41" lengthAdjust="spacingAndGlyphs">0</text>
<text x="870.30" y="117.92" font-size="19.2" class="e" textLength="16.18" lengthAdjust="spacingAndGlyphs">-2</text>
<text x="870.30" y="150.04" font-size="19.2" class="e" textLength="16.18" lengthAdjust="spacingAndGlyphs">-4</text>
<text x="870.30" y="182.16" font-size="19.2" class="e" textLength="16.18" lengthAdjust="spacingAndGlyphs">-6</text>
<text x="870.30" y="214.28" font-size="19.2" class="e" textLength="16.18" lengthAdjust="spacingAndGlyphs">-8</text>
<text x="870.30" y="246.40" font-size="19.2" class="e" textLength="25.59" lengthAdjust="spacingAndGlyphs">-10</text>
<text x="870.30" y="278.52" font-size="19.2" class="e" textLength="25.59" lengthAdjust="spacingAndGlyphs">-12</text>
<text x="870.30" y="310.64" font-size="19.2" class="e" textLength="25.59" lengthAdjust="spacingAndGlyphs">-14</text>
<path d="M878.3 80H1197.28" stroke="#c4c4c4" stroke-width="0.8" fill="none"/>
<path d="M878.3 76.79 L882.17 77.59 L886.68 79.2 L891.19 80 L895.05 80.8 L896.34 80.32 L896.99 83.21 L899.57 152.43 L901.11 93.51 L902.27 85.62 L903.56 81.93 L906.01 80 L909.88 78.88 L913.74 79.68 L915.74 80.32 L916.38 83.21 L918.96 280.27 L920.51 108.85 L921.67 85.62 L922.96 81.93 L925.41 80 L929.27 78.88 L933.14 79.68 L935.14 80.32 L935.78 83.21 L938.36 240.28 L939.9 104.05 L941.06 85.62 L942.35 81.93 L944.8 80 L948.67 78.88 L952.53 79.68 L954.53 80.32 L955.18 83.21 L957.75 218.44 L959.3 101.43 L960.46 85.62 L961.75 81.93 L964.2 80 L968.06 78.88 L971.93 79.68 L973.93 80.32 L974.57 83.21 L977.15 201.25 L978.7 99.37 L979.86 85.62 L981.15 81.93 L983.59 80 L987.46 78.88 L991.33 79.68 L993.33 80.32 L993.97 83.21 L996.55 183.11 L998.09 97.19 L999.25 85.62 L1000.54 81.93 L1002.99 80 L1006.86 78.88 L1010.72 79.68 L1012.72 80.32 L1013.37 83.21 L1015.94 164.31 L1017.49 94.94 L1018.65 85.62 L1019.94 81.93 L1022.39 80 L1026.25 78.88 L1030.12 79.68 L1032.12 80.32 L1032.76 83.21 L1035.34 148.09 L1036.89 92.99 L1038.05 85.62 L1039.34 81.93 L1041.78 80 L1045.65 78.88 L1049.52 79.68 L1051.51 80.32 L1052.16 83.21 L1054.74 137.98 L1056.28 91.78 L1057.44 85.62 L1058.73 81.93 L1061.18 80 L1065.05 78.88 L1068.91 79.68 L1070.91 80.32 L1071.56 83.21 L1074.13 118.54 L1075.68 89.44 L1076.84 85.62 L1078.13 81.93 L1080.58 80 L1084.44 78.88 L1088.31 79.68 L1090.31 80.32 L1090.95 83.21 L1093.53 104.73 L1095.08 87.79 L1096.24 85.62 L1097.52 81.93 L1099.97 80 L1103.84 78.88 L1107.71 79.68 L1109.7 80.32 L1110.35 83.21 L1112.93 95.42 L1114.47 86.67 L1115.63 85.62 L1116.92 81.93 L1119.37 80 L1123.24 78.88 L1127.1 79.68 L1127.68 78.8 L1130.25 78.25 L1133.08 78.43 L1135.88 80.71 L1138.09 77.77 L1140.53 77.91 L1142.29 79.3 L1144.22 79.06 L1146.57 80.76 L1148.46 79.91 L1151.25 78.34 L1153.07 78.24 L1154.86 78.82 L1156.63 80.8 L1159.37 80.13 L1161.26 77.65 L1163.99 79.87 L1166.84 79.07 L1169.33 80.15 L1172.15 78.58 L1175.01 77.93 L1177 79.64 L1178.83 80.34 L1180.52 79.84 L1182.91 80.79 L1185.4 79.72 L1187.41 78.17 L1189.64 79.79 L1191.87 78.54 L1193.55 77.67 L1195.19 75.99 L1197.89 78.34" fill="none" stroke="#000" stroke-width="1.9" stroke-linejoin="round"/>
<text x="1040.30" y="352.30" font-size="22" class="m" textLength="78.00" lengthAdjust="spacingAndGlyphs">Time (s)</text>
<text x="835.00" y="175.50" font-size="21.5" class="m" textLength="152.00" lengthAdjust="spacingAndGlyphs" transform="rotate(-90 835.00 175.50)">Heat Rate (μJ/s)</text>
<text x="850.00" y="34.00" font-size="30" textLength="22.50" lengthAdjust="spacingAndGlyphs">c)</text>
<text x="887.50" y="34.00" font-size="18.7" textLength="328.00" lengthAdjust="spacingAndGlyphs">PROTAC 10-CRBN (Binary Complex)</text>
<path d="M82.1 416V672.6H399.6M82.1 672.6v4.8M145.6 672.6v4.8M209.1 672.6v4.8M272.6 672.6v4.8M336.1 672.6v4.8M399.6 672.6v4.8M113.85 672.6v2.3M177.35 672.6v2.3M240.85 672.6v2.3M304.35 672.6v2.3M367.85 672.6v2.3M82.1 431.5h-4.8M82.1 461.64h-4.8M82.1 491.78h-4.8M82.1 521.92h-4.8M82.1 552.06h-4.8M82.1 582.2h-4.8M82.1 612.34h-4.8M82.1 642.48h-4.8M82.1 672.62h-4.8M82.1 416.43h-2.3M82.1 446.57h-2.3M82.1 476.71h-2.3M82.1 506.85h-2.3M82.1 536.99h-2.3M82.1 567.13h-2.3M82.1 597.27h-2.3M82.1 627.41h-2.3M82.1 657.55h-2.3" fill="none" stroke="#000" stroke-width="1.65" stroke-linecap="square"/>
<text x="82.10" y="694.10" font-size="19.2" class="m" textLength="23.52" lengthAdjust="spacingAndGlyphs">0.0</text>
<text x="145.60" y="694.10" font-size="19.2" class="m" textLength="23.52" lengthAdjust="spacingAndGlyphs">0.5</text>
<text x="209.10" y="694.10" font-size="19.2" class="m" textLength="23.52" lengthAdjust="spacingAndGlyphs">1.0</text>
<text x="272.60" y="694.10" font-size="19.2" class="m" textLength="23.52" lengthAdjust="spacingAndGlyphs">1.5</text>
<text x="336.10" y="694.10" font-size="19.2" class="m" textLength="23.52" lengthAdjust="spacingAndGlyphs">2.0</text>
<text x="399.60" y="694.10" font-size="19.2" class="m" textLength="23.52" lengthAdjust="spacingAndGlyphs">2.5</text>
<text x="74.10" y="437.30" font-size="19.2" class="e" textLength="9.41" lengthAdjust="spacingAndGlyphs">0</text>
<text x="74.10" y="467.44" font-size="19.2" class="e" textLength="16.18" lengthAdjust="spacingAndGlyphs">-2</text>
<text x="74.10" y="497.58" font-size="19.2" class="e" textLength="16.18" lengthAdjust="spacingAndGlyphs">-4</text>
<text x="74.10" y="527.72" font-size="19.2" class="e" textLength="16.18" lengthAdjust="spacingAndGlyphs">-6</text>
<text x="74.10" y="557.86" font-size="19.2" class="e" textLength="16.18" lengthAdjust="spacingAndGlyphs">-8</text>
<text x="74.10" y="588.00" font-size="19.2" class="e" textLength="25.59" lengthAdjust="spacingAndGlyphs">-10</text>
<text x="74.10" y="618.14" font-size="19.2" class="e" textLength="25.59" lengthAdjust="spacingAndGlyphs">-12</text>
<text x="74.10" y="648.28" font-size="19.2" class="e" textLength="25.59" lengthAdjust="spacingAndGlyphs">-14</text>
<text x="74.10" y="678.42" font-size="19.2" class="e" textLength="25.59" lengthAdjust="spacingAndGlyphs">-16</text>
<path d="M103.69 643.23 L106.12 643.23 L108.56 643.23 L110.99 643.23 L113.43 643.23 L115.86 643.23 L118.3 643.23 L120.73 643.23 L123.16 643.23 L125.6 643.23 L128.03 643.23 L130.47 643.23 L132.9 643.23 L135.33 643.23 L137.77 643.23 L140.2 643.23 L142.64 643.23 L145.07 643.23 L147.5 643.23 L149.94 643.23 L152.37 643.23 L154.81 643.23 L157.24 643.23 L159.68 643.23 L162.11 643.23 L164.54 643.23 L166.98 643.23 L169.41 643.23 L171.85 643.23 L174.28 643.23 L176.72 643.23 L179.15 643.23 L181.58 643.23 L184.02 643.23 L186.45 643.23 L188.89 643.23 L191.32 643.23 L193.75 643.23 L196.19 643.23 L198.62 643.23 L201.06 643.22 L203.49 643.22 L205.93 643.2 L208.36 643.18 L210.79 643.15 L213.23 643.09 L215.66 642.99 L218.1 642.82 L220.53 642.54 L222.96 642.05 L225.4 641.22 L227.83 639.83 L230.27 637.5 L232.7 633.64 L235.13 627.38 L237.57 617.54 L240 602.79 L242.44 582.24 L244.87 556.3 L247.31 527.37 L249.74 499.23 L252.17 475.27 L254.61 457.09 L257.04 444.46 L259.48 436.2 L261.91 431.03 L264.35 427.87 L266.78 425.97 L269.21 424.84 L271.65 424.17 L274.08 423.78 L276.52 423.54 L278.95 423.41 L281.38 423.33 L283.82 423.28 L286.25 423.25 L288.69 423.23 L291.12 423.23 L293.56 423.22 L295.99 423.22 L298.42 423.21 L300.86 423.21 L303.29 423.21 L305.73 423.21 L308.16 423.21 L310.59 423.21 L313.03 423.21 L315.46 423.21 L317.9 423.21 L320.33 423.21 L322.76 423.21 L325.2 423.21 L327.63 423.21 L330.07 423.21 L332.5 423.21 L334.94 423.21 L337.37 423.21 L339.8 423.21 L342.24 423.21 L344.67 423.21 L347.11 423.21 L349.54 423.21 L351.98 423.21 L354.41 423.21 L356.84 423.21 L359.28 423.21 L361.71 423.21 L364.15 423.21 L366.58 423.21 L369.01 423.21 L371.45 423.21 L373.88 423.21 L376.32 423.21 L378.75 423.21 L381.19 423.21 L383.62 423.21 L386.05 423.21 L388.49 423.21 L390.92 423.21 L393.36 423.21 L395.79 423.21" fill="none" stroke="#000" stroke-width="1.8"/>
<path d="M101.06 643.84h5.4v5.4h-5.4zM115.98 643.84h5.4v5.4h-5.4zM130.9 642.14h5.4v5.4h-5.4zM144.13 641.13h5.4v5.4h-5.4zM159.73 640.45h5.4v5.4h-5.4zM173.29 640.11h5.4v5.4h-5.4zM187.87 638.75h5.4v5.4h-5.4zM200.76 637.73h5.4v5.4h-5.4zM214.66 635.36h5.4v5.4h-5.4zM229.58 627.56h5.4v5.4h-5.4zM243.82 538.04h5.4v5.4h-5.4zM265.19 422.07h5.4v5.4h-5.4zM279.77 422.41h5.4v5.4h-5.4zM287.91 419.02h5.4v5.4h-5.4zM293.33 421.05h5.4v5.4h-5.4zM300.11 418.34h5.4v5.4h-5.4zM309.95 421.39h5.4v5.4h-5.4zM323.51 418h5.4v5.4h-5.4zM332.33 422.41h5.4v5.4h-5.4zM343.52 419.02h5.4v5.4h-5.4zM354.03 421.39h5.4v5.4h-5.4zM368.61 420.03h5.4v5.4h-5.4zM382.85 422.41h5.4v5.4h-5.4zM389.98 417.66h5.4v5.4h-5.4zM395.06 421.05h5.4v5.4h-5.4z" fill="#000"/>
<text x="240.80" y="717.00" font-size="22" class="m" textLength="103.00" lengthAdjust="spacingAndGlyphs">Mole Ratio</text>
<text x="42.00" y="544.00" font-size="21.5" class="m" transform="rotate(-90 42.00 544.00)">Enthalpy (kJ/mol)</text>
<text x="16.00" y="392.00" font-size="29.5" textLength="25.00" lengthAdjust="spacingAndGlyphs">d)</text>
<text x="45.50" y="390.20" font-size="18.7" textLength="310.00" lengthAdjust="spacingAndGlyphs">RdRp-PROTAC 10-CRBN (Ternary</text>
<text x="160.00" y="413.20" font-size="18.7" textLength="81.00" lengthAdjust="spacingAndGlyphs">Complex)</text>
<path d="M478.1 414.3V671.4H797.8M478.1 671.4v4.8M542.05 671.4v4.8M606 671.4v4.8M669.95 671.4v4.8M733.9 671.4v4.8M797.85 671.4v4.8M510.08 671.4v2.3M574.03 671.4v2.3M637.98 671.4v2.3M701.93 671.4v2.3M765.88 671.4v2.3M478.1 414.1h-4.8M478.1 460.9h-4.8M478.1 507.7h-4.8M478.1 554.5h-4.8M478.1 601.3h-4.8M478.1 648.1h-4.8M478.1 437.5h-2.3M478.1 484.3h-2.3M478.1 531.1h-2.3M478.1 577.9h-2.3M478.1 624.7h-2.3M478.1 671.5h-2.3" fill="none" stroke="#000" stroke-width="1.65" stroke-linecap="square"/>
<text x="478.10" y="692.90" font-size="19.2" class="m" textLength="23.52" lengthAdjust="spacingAndGlyphs">0.0</text>
<text x="542.05" y="692.90" font-size="19.2" class="m" textLength="23.52" lengthAdjust="spacingAndGlyphs">0.5</text>
<text x="606.00" y="692.90" font-size="19.2" class="m" textLength="23.52" lengthAdjust="spacingAndGlyphs">1.0</text>
<text x="669.95" y="692.90" font-size="19.2" class="m" textLength="23.52" lengthAdjust="spacingAndGlyphs">1.5</text>
<text x="733.90" y="692.90" font-size="19.2" class="m" textLength="23.52" lengthAdjust="spacingAndGlyphs">2.0</text>
<text x="797.85" y="692.90" font-size="19.2" class="m" textLength="23.52" lengthAdjust="spacingAndGlyphs">2.5</text>
<text x="470.10" y="419.90" font-size="19.2" class="e" textLength="9.41" lengthAdjust="spacingAndGlyphs">2</text>
<text x="470.10" y="466.70" font-size="19.2" class="e" textLength="9.41" lengthAdjust="spacingAndGlyphs">0</text>
<text x="470.10" y="513.50" font-size="19.2" class="e" textLength="16.18" lengthAdjust="spacingAndGlyphs">-2</text>
<text x="470.10" y="560.30" font-size="19.2" class="e" textLength="16.18" lengthAdjust="spacingAndGlyphs">-4</text>
<text x="470.10" y="607.10" font-size="19.2" class="e" textLength="16.18" lengthAdjust="spacingAndGlyphs">-6</text>
<text x="470.10" y="653.90" font-size="19.2" class="e" textLength="16.18" lengthAdjust="spacingAndGlyphs">-8</text>
<path d="M497.92 628.21 L500.41 628.21 L502.9 628.21 L505.39 628.21 L507.88 628.21 L510.37 628.21 L512.86 628.21 L515.35 628.21 L517.83 628.21 L520.32 628.21 L522.81 628.21 L525.3 628.21 L527.79 628.21 L530.28 628.2 L532.77 628.2 L535.26 628.2 L537.74 628.2 L540.23 628.19 L542.72 628.19 L545.21 628.18 L547.7 628.17 L550.19 628.16 L552.68 628.14 L555.17 628.12 L557.65 628.1 L560.14 628.07 L562.63 628.02 L565.12 627.97 L567.61 627.9 L570.1 627.81 L572.59 627.69 L575.07 627.53 L577.56 627.33 L580.05 627.08 L582.54 626.74 L585.03 626.31 L587.52 625.76 L590.01 625.04 L592.5 624.13 L594.98 622.95 L597.47 621.45 L599.96 619.53 L602.45 617.11 L604.94 614.06 L607.43 610.26 L609.92 605.57 L612.41 599.85 L614.89 592.98 L617.38 584.88 L619.87 575.55 L622.36 565.05 L624.85 553.58 L627.34 541.41 L629.83 528.92 L632.32 516.53 L634.8 504.62 L637.29 493.55 L639.78 483.55 L642.27 474.76 L644.76 467.22 L647.25 460.87 L649.74 455.61 L652.23 451.33 L654.71 447.88 L657.2 445.12 L659.69 442.94 L662.18 441.22 L664.67 439.87 L667.16 438.81 L669.65 437.99 L672.13 437.35 L674.62 436.85 L677.11 436.47 L679.6 436.17 L682.09 435.94 L684.58 435.76 L687.07 435.63 L689.56 435.52 L692.04 435.44 L694.53 435.37 L697.02 435.33 L699.51 435.29 L702 435.26 L704.49 435.24 L706.98 435.22 L709.47 435.21 L711.95 435.19 L714.44 435.19 L716.93 435.18 L719.42 435.18 L721.91 435.17 L724.4 435.17 L726.89 435.17 L729.38 435.17 L731.86 435.16 L734.35 435.16 L736.84 435.16 L739.33 435.16 L741.82 435.16 L744.31 435.16 L746.8 435.16 L749.29 435.16 L751.77 435.16 L754.26 435.16 L756.75 435.16 L759.24 435.16 L761.73 435.16 L764.22 435.16 L766.71 435.16 L769.2 435.16 L771.68 435.16 L774.17 435.16 L776.66 435.16 L779.15 435.16 L781.64 435.16 L784.13 435.16 L786.62 435.16 L789.1 435.16 L791.59 435.16 L794.08 435.16 L796.57 435.16" fill="none" stroke="#000" stroke-width="1.8"/>
<path d="M495.13 637.39h5.4v5.4h-5.4zM515.13 635.02h5.4v5.4h-5.4zM533.11 628.24h5.4v5.4h-5.4zM554.13 622.47h5.4v5.4h-5.4zM573.12 616.03h5.4v5.4h-5.4zM591.77 609.25h5.4v5.4h-5.4zM611.44 586.53h5.4v5.4h-5.4zM630.09 525.83h5.4v5.4h-5.4zM640.94 451.57h5.4v5.4h-5.4zM668.41 436.65h5.4v5.4h-5.4zM691.46 432.58h5.4v5.4h-5.4zM701.3 434.61h5.4v5.4h-5.4zM719.61 432.92h5.4v5.4h-5.4zM729.78 434.95h5.4v5.4h-5.4zM744.36 432.24h5.4v5.4h-5.4zM753.18 434.61h5.4v5.4h-5.4zM763.01 430.88h5.4v5.4h-5.4zM770.13 434.28h5.4v5.4h-5.4zM781.33 432.92h5.4v5.4h-5.4zM789.46 433.94h5.4v5.4h-5.4zM793.53 432.24h5.4v5.4h-5.4z" fill="#000"/>
<text x="638.00" y="714.50" font-size="22" class="m" textLength="103.50" lengthAdjust="spacingAndGlyphs">Mole Ratio</text>
<text x="447.00" y="541.00" font-size="21.5" class="m" transform="rotate(-90 447.00 541.00)">Enthalpy (kJ/mol)</text>
<text x="431.00" y="392.00" font-size="30">e)</text>
<text x="460.00" y="394.00" font-size="18.7" textLength="323.00" lengthAdjust="spacingAndGlyphs">PROTAC 10-RdRp (Binary Complex)</text>
<path d="M878.1 412.9V671.3H1199.3M878.1 671.3v4.8M942.35 671.3v4.8M1006.6 671.3v4.8M1070.85 671.3v4.8M1135.1 671.3v4.8M1199.35 671.3v4.8M910.23 671.3v2.3M974.48 671.3v2.3M1038.72 671.3v2.3M1102.97 671.3v2.3M1167.22 671.3v2.3M878.1 413h-4.8M878.1 449.9h-4.8M878.1 486.8h-4.8M878.1 523.7h-4.8M878.1 560.6h-4.8M878.1 597.5h-4.8M878.1 634.4h-4.8M878.1 671.3h-4.8M878.1 431.45h-2.3M878.1 468.35h-2.3M878.1 505.25h-2.3M878.1 542.15h-2.3M878.1 579.05h-2.3M878.1 615.95h-2.3M878.1 652.85h-2.3" fill="none" stroke="#000" stroke-width="1.65" stroke-linecap="square"/>
<text x="878.10" y="692.80" font-size="19.2" class="m" textLength="23.52" lengthAdjust="spacingAndGlyphs">0.0</text>
<text x="942.35" y="692.80" font-size="19.2" class="m" textLength="23.52" lengthAdjust="spacingAndGlyphs">0.5</text>
<text x="1006.60" y="692.80" font-size="19.2" class="m" textLength="23.52" lengthAdjust="spacingAndGlyphs">1.0</text>
<text x="1070.85" y="692.80" font-size="19.2" class="m" textLength="23.52" lengthAdjust="spacingAndGlyphs">1.5</text>
<text x="1135.10" y="692.80" font-size="19.2" class="m" textLength="23.52" lengthAdjust="spacingAndGlyphs">2.0</text>
<text x="1199.35" y="692.80" font-size="19.2" class="m" textLength="23.52" lengthAdjust="spacingAndGlyphs">2.5</text>
<text x="870.10" y="418.80" font-size="19.2" class="e" textLength="9.41" lengthAdjust="spacingAndGlyphs">1</text>
<text x="870.10" y="455.70" font-size="19.2" class="e" textLength="9.41" lengthAdjust="spacingAndGlyphs">0</text>
<text x="870.10" y="492.60" font-size="19.2" class="e" textLength="16.18" lengthAdjust="spacingAndGlyphs">-1</text>
<text x="870.10" y="529.50" font-size="19.2" class="e" textLength="16.18" lengthAdjust="spacingAndGlyphs">-2</text>
<text x="870.10" y="566.40" font-size="19.2" class="e" textLength="16.18" lengthAdjust="spacingAndGlyphs">-3</text>
<text x="870.10" y="603.30" font-size="19.2" class="e" textLength="16.18" lengthAdjust="spacingAndGlyphs">-4</text>
<text x="870.10" y="640.20" font-size="19.2" class="e" textLength="16.18" lengthAdjust="spacingAndGlyphs">-5</text>
<text x="870.10" y="677.10" font-size="19.2" class="e" textLength="16.18" lengthAdjust="spacingAndGlyphs">-6</text>
<path d="M899.95 652.43 L902.44 652.39 L904.94 652.35 L907.43 652.3 L909.93 652.25 L912.42 652.19 L914.92 652.13 L917.41 652.06 L919.91 651.98 L922.4 651.9 L924.9 651.81 L927.39 651.71 L929.89 651.6 L932.38 651.48 L934.88 651.35 L937.37 651.21 L939.87 651.05 L942.36 650.88 L944.86 650.69 L947.35 650.49 L949.85 650.26 L952.34 650.02 L954.84 649.75 L957.33 649.46 L959.83 649.14 L962.32 648.79 L964.82 648.41 L967.31 647.99 L969.81 647.54 L972.3 647.04 L974.8 646.5 L977.29 645.92 L979.79 645.27 L982.28 644.58 L984.78 643.82 L987.27 642.99 L989.77 642.09 L992.26 641.11 L994.76 640.06 L997.25 638.91 L999.75 637.67 L1002.24 636.32 L1004.74 634.87 L1007.23 633.3 L1009.73 631.62 L1012.22 629.8 L1014.72 627.85 L1017.21 625.75 L1019.71 623.51 L1022.2 621.11 L1024.7 618.56 L1027.19 615.84 L1029.69 612.95 L1032.18 609.89 L1034.68 606.66 L1037.17 603.25 L1039.67 599.68 L1042.16 595.93 L1044.66 592.03 L1047.15 587.96 L1049.65 583.75 L1052.14 579.39 L1054.64 574.91 L1057.13 570.32 L1059.63 565.63 L1062.12 560.86 L1064.62 556.03 L1067.11 551.16 L1069.61 546.26 L1072.1 541.36 L1074.6 536.48 L1077.09 531.64 L1079.59 526.86 L1082.08 522.16 L1084.58 517.55 L1087.07 513.05 L1089.57 508.67 L1092.06 504.43 L1094.56 500.34 L1097.05 496.41 L1099.55 492.63 L1102.04 489.03 L1104.54 485.6 L1107.03 482.33 L1109.53 479.25 L1112.02 476.33 L1114.52 473.58 L1117.01 471 L1119.51 468.57 L1122 466.3 L1124.5 464.18 L1126.99 462.21 L1129.49 460.37 L1131.98 458.66 L1134.48 457.07 L1136.97 455.6 L1139.47 454.24 L1141.96 452.98 L1144.46 451.81 L1146.95 450.74 L1149.45 449.75 L1151.94 448.84 L1154.44 448 L1156.93 447.23 L1159.43 446.52 L1161.92 445.87 L1164.42 445.27 L1166.91 444.72 L1169.41 444.22 L1171.9 443.76 L1174.4 443.34 L1176.89 442.95 L1179.39 442.6 L1181.88 442.27 L1184.38 441.98 L1186.87 441.7 L1189.37 441.46 L1191.86 441.23 L1194.36 441.02 L1196.85 440.83 L1199.35 440.66" fill="none" stroke="#000" stroke-width="1.8"/>
<path d="M897.24 650.95h5.4v5.4h-5.4zM915.66 649.87h5.4v5.4h-5.4zM935.88 648.42h5.4v5.4h-5.4zM954.31 645.89h5.4v5.4h-5.4zM973.81 639.39h5.4v5.4h-5.4zM992.95 628.2h5.4v5.4h-5.4zM1012.46 623.86h5.4v5.4h-5.4zM1031.6 603.27h5.4v5.4h-5.4zM1051.47 574.02h5.4v5.4h-5.4zM1071.33 537.9h5.4v5.4h-5.4zM1090.11 512.61h5.4v5.4h-5.4zM1109.98 472.16h5.4v5.4h-5.4zM1129.12 444.71h5.4v5.4h-5.4zM1145.74 443.26h5.4v5.4h-5.4zM1160.91 442.9h5.4v5.4h-5.4zM1171.02 443.63h5.4v5.4h-5.4zM1179.69 443.26h5.4v5.4h-5.4zM1188.36 443.26h5.4v5.4h-5.4zM1194.5 442.54h5.4v5.4h-5.4z" fill="#000"/>
<text x="1038.00" y="714.50" font-size="22" class="m" textLength="104.00" lengthAdjust="spacingAndGlyphs">Mole Ratio</text>
<text x="846.00" y="541.00" font-size="21.5" class="m" transform="rotate(-90 846.00 541.00)">Enthalpy (kJ/mol)</text>
<text x="851.00" y="392.00" font-size="30">f)</text>
<text x="883.00" y="394.00" font-size="18.7" textLength="327.00" lengthAdjust="spacingAndGlyphs">PROTAC 10-CRBN (Binary Complex)</text>
<text x="15.00" y="748.00" font-size="29.5">g)</text>
<path d="M59.9 799.8H96.8" stroke="#2a2a2a" stroke-width="2.7"/>
<path d="M97 784.6L123.4 799.8L97 816.5Z" fill="url(#mg)" stroke="url(#mg)" stroke-width="3.2" stroke-linejoin="round"/>
<rect x="28.5" y="779.5" width="32.4" height="41.5" rx="2.2" fill="#1433d3"/>
<text x="70.60" y="791.30" font-size="26">P</text>
<path d="M148.05 794.2h20.5M158.3 783.95v20.5" stroke="#000" stroke-width="4.2" fill="none"/>
<use href="#G" transform="translate(193.5 764.1) scale(1)"/>
<text x="235.50" y="813.00" font-size="26" textLength="16.20" lengthAdjust="spacingAndGlyphs">R</text>
<path d="M36.95 872.5h20.5M47.2 862.25v20.5" stroke="#000" stroke-width="4.2" fill="none"/>
<use href="#O" transform="translate(0.7 900.7) scale(1)"/>
<text x="40.00" y="954.00" font-size="27.5" textLength="19.30" lengthAdjust="spacingAndGlyphs">C</text>
<text x="316.40" y="786.90" font-size="27.5" class="k" textLength="17.60" lengthAdjust="spacingAndGlyphs">K</text>
<text x="334.20" y="789.80" font-size="16.3" class="k2" textLength="21.29" lengthAdjust="spacingAndGlyphs">RP</text>
<path d="M304.2 798.7H382.8M384 805.8H305.7" fill="none" stroke="#e8424c" stroke-width="2.1"/>
<path d="M382.8 799.6L361.3 789.9L378.8 798.7ZM305.7 804.9L327.7 815.6L309.7 805.8Z" fill="#e8424c" stroke="#e8424c" stroke-width="0.8" stroke-linejoin="round"/>
<use href="#GC" transform="translate(479.2 759.1) scale(1)"/>
<path d="M444.9 805H482.2" stroke="#2a2a2a" stroke-width="2.7"/>
<path d="M482.4 789.4L509 804.8L482.4 821.2Z" fill="url(#mg)" stroke="url(#mg)" stroke-width="3.2" stroke-linejoin="round"/>
<rect x="413.6" y="785.1" width="32.3" height="40.9" rx="2.2" fill="#1433d3"/>
<text x="456.00" y="787.60" font-size="26">P</text>
<text x="520.80" y="808.30" font-size="26" textLength="16.20" lengthAdjust="spacingAndGlyphs">R</text>
<path d="M482.45 878.5h20.5M492.7 868.25v20.5" stroke="#000" stroke-width="4.2" fill="none"/>
<use href="#O" transform="translate(447.6 904.2) scale(1)"/>
<text x="488.00" y="957.20" font-size="27.5" textLength="19.30" lengthAdjust="spacingAndGlyphs">C</text>
<path d="M44.9 1066V989.5M52.6 988V1064.5" fill="none" stroke="#e8424c" stroke-width="2.1"/>
<path d="M45.8 989L34.6 1007.5L44.9 992.5ZM51.7 1064.5L62.4 1045.5L52.6 1060Z" fill="#e8424c" stroke="#e8424c" stroke-width="0.8" stroke-linejoin="round"/>
<text x="60.10" y="1032.20" font-size="27.5" class="k" textLength="17.60" lengthAdjust="spacingAndGlyphs">K</text>
<text x="77.90" y="1035.10" font-size="16.3" class="k2" textLength="21.29" lengthAdjust="spacingAndGlyphs">CP</text>
<path d="M490 1065V988.5M497.9 987V1063.5" fill="none" stroke="#e8424c" stroke-width="2.1"/>
<path d="M490.9 988L479.7 1006.5L490 991.5ZM497 1063.5L507.7 1044.5L497.9 1059Z" fill="#e8424c" stroke="#e8424c" stroke-width="0.8" stroke-linejoin="round"/>
<text x="360.80" y="1028.10" font-size="27.5" class="k" textLength="17.60" lengthAdjust="spacingAndGlyphs">K</text>
<text x="378.60" y="1031.00" font-size="16.3" class="k2" textLength="30.30" lengthAdjust="spacingAndGlyphs">RPC</text>
<text x="413.30" y="1029.40" font-size="15.5" class="s">=</text>
<text x="427.50" y="1028.10" font-size="27.5" class="k" textLength="17.60" lengthAdjust="spacingAndGlyphs">K</text>
<text x="445.30" y="1031.00" font-size="16.3" class="k2" textLength="21.29" lengthAdjust="spacingAndGlyphs">RP</text>
<path d="M426.7 1038.1H467.3" stroke="#222" stroke-width="2"/>
<text x="447.40" y="1058.00" font-size="25.5" class="m n s k" textLength="15.20" lengthAdjust="spacingAndGlyphs">α</text>
<rect x="42.6" y="1103.7" width="32.4" height="40.3" rx="2.2" fill="#1433d3"/>
<use href="#O" transform="translate(73.3 1076.1) rotate(90) scale(1)"/>
<path d="M74 1124.2H111.3" stroke="#2a2a2a" stroke-width="2.7"/>
<path d="M111.5 1108.7L137.1 1124.2L111.5 1139.4Z" fill="url(#mg)" stroke="url(#mg)" stroke-width="3.2" stroke-linejoin="round"/>
<text x="15.00" y="1128.60" font-size="27.5" textLength="19.30" lengthAdjust="spacingAndGlyphs">C</text>
<text x="86.60" y="1099.30" font-size="26">P</text>
<path d="M150.85 1122.9h20.5M161.1 1112.65v20.5" stroke="#000" stroke-width="4.2" fill="none"/>
<use href="#G" transform="translate(181.2 1085.7) scale(1)"/>
<text x="223.30" y="1133.60" font-size="26" textLength="16.20" lengthAdjust="spacingAndGlyphs">R</text>
<path d="M292.2 1119H368M369.4 1126.1H294.2" fill="none" stroke="#e8424c" stroke-width="2.1"/>
<path d="M368 1119.9L346.5 1110.2L364 1119ZM294.2 1125.2L316.2 1135.9L298.2 1126.1Z" fill="#e8424c" stroke="#e8424c" stroke-width="0.8" stroke-linejoin="round"/>
<text x="268.50" y="1165.00" font-size="27.5" class="k" textLength="17.60" lengthAdjust="spacingAndGlyphs">K</text>
<text x="286.30" y="1167.90" font-size="16.3" class="k2" textLength="30.30" lengthAdjust="spacingAndGlyphs">RPC</text>
<text x="320.80" y="1166.40" font-size="15.5" class="s">=</text>
<text x="335.20" y="1165.00" font-size="27.5" class="k" textLength="17.60" lengthAdjust="spacingAndGlyphs">K</text>
<text x="353.00" y="1167.90" font-size="16.3" class="k2" textLength="21.29" lengthAdjust="spacingAndGlyphs">CP</text>
<path d="M334.4 1171.5H375.8" stroke="#222" stroke-width="2"/>
<text x="355.00" y="1193.80" font-size="25.5" class="m n s k" textLength="15.20" lengthAdjust="spacingAndGlyphs">α</text>
<rect x="430" y="1114.8" width="32.4" height="39.3" rx="2.2" fill="#1433d3"/>
<use href="#O" transform="translate(461.3 1086.3) rotate(90) scale(1)"/>
<use href="#GC" transform="translate(497.1 1090.6) scale(1)"/>
<path d="M461.4 1133.8H498.1" stroke="#2a2a2a" stroke-width="2.7"/>
<path d="M498.3 1119.4L526 1133.8L498.3 1149Z" fill="url(#mg)" stroke="url(#mg)" stroke-width="3.2" stroke-linejoin="round"/>
<text x="402.00" y="1138.90" font-size="27.5" textLength="19.30" lengthAdjust="spacingAndGlyphs">C</text>
<text x="474.40" y="1110.00" font-size="26">P</text>
<text x="539.70" y="1139.40" font-size="26" textLength="16.20" lengthAdjust="spacingAndGlyphs">R</text>
<text x="632.50" y="752.30" font-size="30" textLength="24.00" lengthAdjust="spacingAndGlyphs">h)</text>
<use href="#GC" transform="translate(757.8 771.2) scale(1.1)"/>
<path d="M720.5 820.9H760.2" stroke="#2a2a2a" stroke-width="2.7"/>
<path d="M760.4 804.2L790.2 820.5L760.4 837.6Z" fill="url(#mg)" stroke="url(#mg)" stroke-width="3.2" stroke-linejoin="round"/>
<rect x="686.2" y="799" width="35.3" height="44.6" rx="2.2" fill="#1433d3"/>
<text x="732.80" y="807.50" font-size="26">P</text>
<text x="804.10" y="822.90" font-size="27" textLength="17.00" lengthAdjust="spacingAndGlyphs">R</text>
<path d="M752.65 915.6h19.5M762.4 905.85v19.5" stroke="#000" stroke-width="4.2" fill="none"/>
<use href="#O" transform="translate(690.5 960.1) scale(1.17)"/>
<text x="737.00" y="1019.80" font-size="28.5" textLength="20.00" lengthAdjust="spacingAndGlyphs">C</text>
<text x="868.60" y="883.40" font-size="28" class="k" textLength="17.92" lengthAdjust="spacingAndGlyphs">K</text>
<text x="886.72" y="886.30" font-size="16.5" class="k2" textLength="33.23" lengthAdjust="spacingAndGlyphs">RPC</text>
<path d="M860.1 899.7H952.2M955.3 907.1H861.6" fill="none" stroke="#e8424c" stroke-width="2.1"/>
<path d="M952.2 900.6L930.7 890.9L948.2 899.7ZM861.6 906.2L883.6 916.9L865.6 907.1Z" fill="#e8424c" stroke="#e8424c" stroke-width="0.8" stroke-linejoin="round"/>
<text x="858.60" y="979.70" font-size="22" class="s">α</text>
<text x="876.60" y="978.30" font-size="18" class="s">=</text>
<text x="897.40" y="975.80" font-size="31.5" class="k" textLength="20.30" lengthAdjust="spacingAndGlyphs">K</text>
<text x="917.90" y="978.70" font-size="18.5" class="k2" textLength="24.17" lengthAdjust="spacingAndGlyphs">CP</text>
<path d="M894 982.4H938.6" stroke="#222" stroke-width="2.2"/>
<text x="896.80" y="1011.30" font-size="31.5" class="k" textLength="20.30" lengthAdjust="spacingAndGlyphs">K</text>
<text x="917.30" y="1014.20" font-size="18.5" class="k2" textLength="37.26" lengthAdjust="spacingAndGlyphs">RPC</text>
<rect x="1018.5" y="864.3" width="37.6" height="46.7" rx="2.2" fill="#1433d3"/>
<use href="#O" transform="translate(1053.41 830.8) rotate(90) scale(1.17)"/>
<use href="#GC" transform="translate(1096.5 836.2) scale(1.17)"/>
<path d="M1055.1 887.5H1097.5" stroke="#2a2a2a" stroke-width="2.7"/>
<path d="M1097.7 869.4L1129.3 887.5L1097.7 906.3Z" fill="url(#mg)" stroke="url(#mg)" stroke-width="3.2" stroke-linejoin="round"/>
<text x="984.50" y="891.90" font-size="28.5" textLength="20.00" lengthAdjust="spacingAndGlyphs">C</text>
<text x="1069.50" y="881.10" font-size="27">P</text>
<text x="1145.50" y="891.90" font-size="27.5" textLength="17.20" lengthAdjust="spacingAndGlyphs">R</text>
<text x="621.40" y="1097.20" font-size="23.2" textLength="13.30" lengthAdjust="spacingAndGlyphs">α</text>
<text x="647.90" y="1097.20" font-size="23.2" textLength="13.80" lengthAdjust="spacingAndGlyphs">=</text>
<text x="673.10" y="1079.00" font-size="21.5" class="i" textLength="15.50" lengthAdjust="spacingAndGlyphs">K</text>
<text x="689.50" y="1084.30" font-size="16.3" class="i" textLength="80.00" lengthAdjust="spacingAndGlyphs">d(binary)</text>
<path d="M669.8 1089.9H777.8" stroke="#000" stroke-width="1.4"/>
<text x="671.80" y="1111.80" font-size="21.5" class="i" textLength="15.50" lengthAdjust="spacingAndGlyphs">K</text>
<text x="688.20" y="1117.80" font-size="16.3" class="i" textLength="88.40" lengthAdjust="spacingAndGlyphs">d(ternary)</text>
<text x="781.60" y="1097.20" font-size="23.2" textLength="56.80" lengthAdjust="spacingAndGlyphs">; ΔpK</text>
<text x="838.40" y="1100.20" font-size="14.5">d</text>
<text x="852.30" y="1097.20" font-size="23.2" textLength="49.20" lengthAdjust="spacingAndGlyphs">= pK</text>
<text x="901.50" y="1100.20" font-size="14.5" textLength="68.20" lengthAdjust="spacingAndGlyphs">d(ternary)</text>
<text x="976.00" y="1097.20" font-size="23.2" textLength="42.40" lengthAdjust="spacingAndGlyphs">- pK</text>
<text x="1019.20" y="1100.20" font-size="14.5" textLength="61.10" lengthAdjust="spacingAndGlyphs">d(binary)</text>
<text x="1081.50" y="1097.20" font-size="23.2" textLength="144.40" lengthAdjust="spacingAndGlyphs">, Cooperativity</text>
<text x="650.40" y="1161.50" font-size="23.2" textLength="126.20" lengthAdjust="spacingAndGlyphs">If α &gt; 1, ΔpK</text>
<text x="776.60" y="1164.50" font-size="14.5">d</text>
<text x="787.90" y="1161.50" font-size="23.2" textLength="306.70" lengthAdjust="spacingAndGlyphs">&gt; 0, then, Positive cooperativity</text>
</svg></body></html>
